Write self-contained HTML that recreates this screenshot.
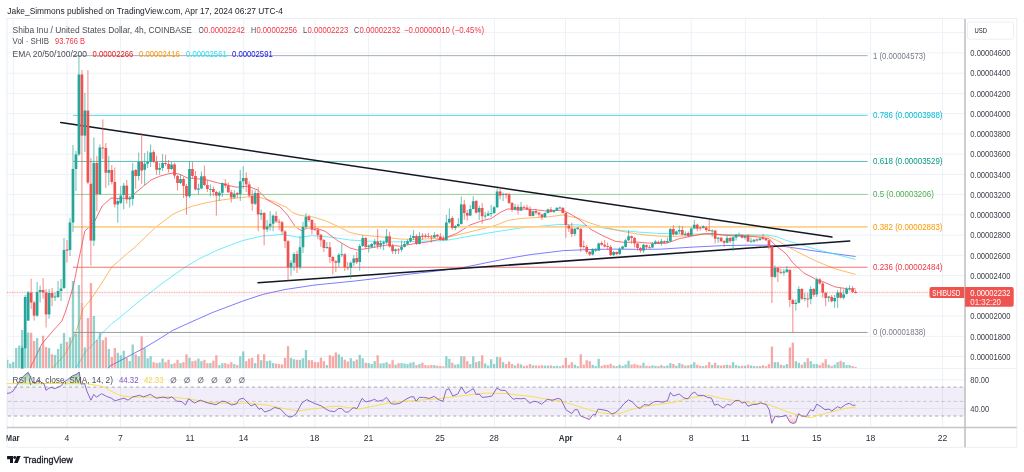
<!DOCTYPE html><html><head><meta charset="utf-8"><style>html,body{margin:0;padding:0;background:#fff;overflow:hidden}svg{display:block}</style></head><body><svg width="1024" height="472" viewBox="0 0 1024 472" font-family="Liberation Sans, sans-serif">
<defs><clipPath id="cm"><rect x="7" y="18.5" width="958" height="350"/></clipPath><clipPath id="cr"><rect x="7" y="368.5" width="958" height="59.1"/></clipPath>
<linearGradient id="gg" gradientUnits="userSpaceOnUse" x1="0" y1="370" x2="0" y2="387"><stop offset="0" stop-color="#4caf50" stop-opacity="0.8"/><stop offset="0.55" stop-color="#4caf50" stop-opacity="0.3"/><stop offset="1" stop-color="#4caf50" stop-opacity="0.04"/></linearGradient><filter id="nf" x="0" y="0" width="1024" height="472" filterUnits="userSpaceOnUse"><feOffset dx="0" dy="0"/></filter><linearGradient id="rg" gradientUnits="userSpaceOnUse" x1="0" y1="416" x2="0" y2="424"><stop offset="0" stop-color="#ef5350" stop-opacity="0.03"/><stop offset="1" stop-color="#ef5350" stop-opacity="0.4"/></linearGradient><clipPath id="ob"><rect x="0" y="360" width="1024" height="27"/></clipPath><clipPath id="os"><rect x="0" y="416" width="1024" height="12"/></clipPath></defs>
<rect width="1024" height="472" fill="#fff"/>
<line x1="13.25" y1="18.5" x2="13.25" y2="427.6" stroke="#edf2f7" stroke-width="1"/>
<line x1="67" y1="18.5" x2="67" y2="427.6" stroke="#edf2f7" stroke-width="1"/>
<line x1="120.5" y1="18.5" x2="120.5" y2="427.6" stroke="#edf2f7" stroke-width="1"/>
<line x1="190" y1="18.5" x2="190" y2="427.6" stroke="#edf2f7" stroke-width="1"/>
<line x1="243.75" y1="18.5" x2="243.75" y2="427.6" stroke="#edf2f7" stroke-width="1"/>
<line x1="315" y1="18.5" x2="315" y2="427.6" stroke="#edf2f7" stroke-width="1"/>
<line x1="368.5" y1="18.5" x2="368.5" y2="427.6" stroke="#edf2f7" stroke-width="1"/>
<line x1="440.25" y1="18.5" x2="440.25" y2="427.6" stroke="#edf2f7" stroke-width="1"/>
<line x1="494.4" y1="18.5" x2="494.4" y2="427.6" stroke="#edf2f7" stroke-width="1"/>
<line x1="565.5" y1="18.5" x2="565.5" y2="427.6" stroke="#edf2f7" stroke-width="1"/>
<line x1="619.3" y1="18.5" x2="619.3" y2="427.6" stroke="#edf2f7" stroke-width="1"/>
<line x1="691.25" y1="18.5" x2="691.25" y2="427.6" stroke="#edf2f7" stroke-width="1"/>
<line x1="745.4" y1="18.5" x2="745.4" y2="427.6" stroke="#edf2f7" stroke-width="1"/>
<line x1="816.7" y1="18.5" x2="816.7" y2="427.6" stroke="#edf2f7" stroke-width="1"/>
<line x1="870.6" y1="18.5" x2="870.6" y2="427.6" stroke="#edf2f7" stroke-width="1"/>
<line x1="942.5" y1="18.5" x2="942.5" y2="427.6" stroke="#edf2f7" stroke-width="1"/>
<line x1="7" y1="32.7" x2="965" y2="32.7" stroke="#edf2f7" stroke-width="1"/>
<line x1="7" y1="52.9" x2="965" y2="52.9" stroke="#edf2f7" stroke-width="1"/>
<line x1="7" y1="73.2" x2="965" y2="73.2" stroke="#edf2f7" stroke-width="1"/>
<line x1="7" y1="93.4" x2="965" y2="93.4" stroke="#edf2f7" stroke-width="1"/>
<line x1="7" y1="113.6" x2="965" y2="113.6" stroke="#edf2f7" stroke-width="1"/>
<line x1="7" y1="133.9" x2="965" y2="133.9" stroke="#edf2f7" stroke-width="1"/>
<line x1="7" y1="154.1" x2="965" y2="154.1" stroke="#edf2f7" stroke-width="1"/>
<line x1="7" y1="174.4" x2="965" y2="174.4" stroke="#edf2f7" stroke-width="1"/>
<line x1="7" y1="194.6" x2="965" y2="194.6" stroke="#edf2f7" stroke-width="1"/>
<line x1="7" y1="214.8" x2="965" y2="214.8" stroke="#edf2f7" stroke-width="1"/>
<line x1="7" y1="235.1" x2="965" y2="235.1" stroke="#edf2f7" stroke-width="1"/>
<line x1="7" y1="255.3" x2="965" y2="255.3" stroke="#edf2f7" stroke-width="1"/>
<line x1="7" y1="275.6" x2="965" y2="275.6" stroke="#edf2f7" stroke-width="1"/>
<line x1="7" y1="295.8" x2="965" y2="295.8" stroke="#edf2f7" stroke-width="1"/>
<line x1="7" y1="316.0" x2="965" y2="316.0" stroke="#edf2f7" stroke-width="1"/>
<line x1="7" y1="336.3" x2="965" y2="336.3" stroke="#edf2f7" stroke-width="1"/>
<line x1="7" y1="356.5" x2="965" y2="356.5" stroke="#edf2f7" stroke-width="1"/>
<line x1="7" y1="379.8" x2="965" y2="379.8" stroke="#edf2f7" stroke-width="1"/>
<line x1="7" y1="408.6" x2="965" y2="408.6" stroke="#edf2f7" stroke-width="1"/>
<rect x="7" y="18.5" width="1009.8" height="428.8" fill="none" stroke="#ebeef3" stroke-width="1"/>
<line x1="7" y1="368.5" x2="1016.8" y2="368.5" stroke="#eef1f5" stroke-width="1"/>
<g clip-path="url(#cm)">
<polyline fill="none" stroke="#4a4aff" stroke-width="0.9" stroke-opacity="0.8" stroke-linejoin="round"  points="108.0,368.4 110.0,366.0 130.0,355.5 145.0,347.5 160.0,338.5 172.5,330.5 190.0,322.5 212.5,312.5 242.5,301.2 262.5,294.5 285.0,289.5 315.0,285.0 356.0,280.9 372.0,279.0 406.0,274.5 435.0,271.2 463.5,267.5 485.0,263.0 506.0,258.8 531.0,254.5 540.0,253.5 563.5,250.6 590.0,249.5 615.0,249.1 640.0,249.4 660.0,249.2 691.2,247.2 722.5,245.6 747.5,245.2 767.5,245.2 785.0,246.5 816.2,251.2 855.6,256.5"/>
<polyline fill="none" stroke="#35e6f5" stroke-width="0.9" stroke-opacity="0.8" stroke-linejoin="round"  points="76.0,368.0 85.5,351.8 95.5,341.8 103.0,332.4 111.8,323.6 119.2,318.0 136.0,303.8 160.0,285.0 183.8,268.0 198.8,259.0 217.5,250.0 242.5,240.6 261.2,236.2 282.5,234.4 292.5,236.2 300.0,237.4 312.5,235.6 331.2,237.2 350.0,240.0 368.8,241.2 400.0,241.9 428.0,241.0 445.0,240.6 470.0,236.2 495.0,231.9 520.0,228.0 548.0,225.5 558.8,224.4 577.5,224.8 596.2,226.9 621.2,230.6 640.0,232.2 660.0,233.5 691.2,234.0 722.5,234.4 747.5,234.8 767.5,235.0 777.5,236.9 785.0,240.0 816.2,249.4 855.6,259.4"/>
<polyline fill="none" stroke="#ff9f2e" stroke-width="0.9" stroke-opacity="0.8" stroke-linejoin="round"  points="52.4,368.0 64.2,355.5 70.5,344.0 75.5,333.0 80.5,318.0 83.0,308.8 90.5,300.0 100.5,285.0 111.8,267.0 125.5,255.0 134.0,248.0 156.0,226.9 173.5,213.8 184.0,209.4 192.5,206.2 205.0,203.0 217.5,200.6 230.0,198.8 247.5,196.9 260.0,197.5 275.0,201.9 281.0,205.0 286.0,207.0 292.5,212.5 300.0,215.3 308.0,216.5 312.5,216.9 325.0,220.6 337.5,226.2 350.0,232.5 362.5,235.2 381.2,236.9 400.0,239.0 412.5,239.4 428.0,238.8 445.0,238.0 470.0,231.9 495.0,225.6 507.5,220.6 520.0,218.5 548.0,216.9 562.5,215.0 577.5,218.0 590.0,223.0 602.5,226.9 621.2,231.2 640.0,234.4 660.0,236.2 672.5,236.5 691.2,235.6 703.8,234.0 722.5,235.0 747.5,235.6 767.5,236.2 777.5,240.6 785.0,245.0 797.5,251.9 816.2,261.2 835.0,268.8 855.6,274.4"/>
<polyline fill="none" stroke="#f23645" stroke-width="0.85" stroke-opacity="0.85" stroke-linejoin="round"  points="30.2,368.0 41.8,344.0 52.0,332.0 61.8,321.0 65.0,313.0 68.0,303.8 71.0,294.0 73.6,285.0 77.0,268.0 81.0,249.0 84.8,231.0 89.8,226.5 94.8,221.0 102.2,206.0 111.0,198.0 120.0,198.5 129.8,198.0 133.5,194.4 143.5,186.2 151.0,180.0 159.8,176.2 168.5,173.8 173.5,173.0 180.0,174.4 187.5,178.0 205.0,179.4 217.5,182.8 236.2,187.2 247.5,186.2 257.5,189.8 265.0,197.5 267.5,200.0 280.0,206.9 287.5,215.0 295.0,226.2 301.2,230.6 307.5,228.0 315.0,227.8 325.0,231.2 337.5,240.6 350.0,248.0 357.5,250.0 370.0,248.0 387.5,245.0 400.0,246.2 412.5,244.0 428.0,241.9 445.0,238.0 457.5,233.0 470.0,225.0 482.5,220.6 491.2,218.5 500.0,212.5 507.5,209.0 520.0,209.0 532.5,209.4 548.0,211.2 552.5,210.6 562.5,210.2 571.2,214.4 580.0,220.0 590.0,228.8 602.5,235.6 615.0,241.2 625.0,242.5 635.0,241.9 647.5,243.0 660.0,243.5 667.5,243.0 678.8,238.8 691.2,236.2 703.8,233.8 712.5,233.5 722.5,235.0 735.0,236.0 747.5,236.0 760.0,237.2 768.8,238.5 775.0,245.0 786.2,253.8 792.5,262.5 803.8,273.0 816.2,279.4 822.5,281.5 835.0,286.9 847.5,288.8 855.6,288.8"/>
<rect x="6.11" y="359.70" width="2.3" height="8.30" fill="#26a69a" fill-opacity="0.5"/>
<rect x="9.10" y="363.60" width="2.3" height="4.40" fill="#26a69a" fill-opacity="0.5"/>
<rect x="12.08" y="362.00" width="2.3" height="6.00" fill="#26a69a" fill-opacity="0.5"/>
<rect x="15.07" y="348.00" width="2.3" height="20.00" fill="#26a69a" fill-opacity="0.5"/>
<rect x="18.06" y="345.50" width="2.3" height="22.50" fill="#26a69a" fill-opacity="0.5"/>
<rect x="21.05" y="330.00" width="2.3" height="38.00" fill="#26a69a" fill-opacity="0.5"/>
<rect x="24.03" y="335.00" width="2.3" height="33.00" fill="#26a69a" fill-opacity="0.5"/>
<rect x="27.02" y="332.40" width="2.3" height="35.60" fill="#26a69a" fill-opacity="0.5"/>
<rect x="30.01" y="332.75" width="2.3" height="35.25" fill="#ef5350" fill-opacity="0.5"/>
<rect x="32.99" y="341.00" width="2.3" height="27.00" fill="#ef5350" fill-opacity="0.5"/>
<rect x="35.98" y="338.00" width="2.3" height="30.00" fill="#26a69a" fill-opacity="0.5"/>
<rect x="38.97" y="347.40" width="2.3" height="20.60" fill="#26a69a" fill-opacity="0.5"/>
<rect x="41.95" y="335.75" width="2.3" height="32.25" fill="#ef5350" fill-opacity="0.5"/>
<rect x="44.94" y="347.00" width="2.3" height="21.00" fill="#ef5350" fill-opacity="0.5"/>
<rect x="47.93" y="348.00" width="2.3" height="20.00" fill="#26a69a" fill-opacity="0.5"/>
<rect x="50.91" y="354.25" width="2.3" height="13.75" fill="#ef5350" fill-opacity="0.5"/>
<rect x="53.90" y="355.00" width="2.3" height="13.00" fill="#26a69a" fill-opacity="0.5"/>
<rect x="56.89" y="349.00" width="2.3" height="19.00" fill="#26a69a" fill-opacity="0.5"/>
<rect x="59.88" y="343.60" width="2.3" height="24.40" fill="#26a69a" fill-opacity="0.5"/>
<rect x="62.86" y="333.00" width="2.3" height="35.00" fill="#26a69a" fill-opacity="0.5"/>
<rect x="65.85" y="342.00" width="2.3" height="26.00" fill="#ef5350" fill-opacity="0.5"/>
<rect x="68.84" y="337.40" width="2.3" height="30.60" fill="#26a69a" fill-opacity="0.5"/>
<rect x="71.82" y="281.00" width="2.3" height="87.00" fill="#26a69a" fill-opacity="0.5"/>
<rect x="74.81" y="333.60" width="2.3" height="34.40" fill="#26a69a" fill-opacity="0.5"/>
<rect x="77.80" y="285.00" width="2.3" height="83.00" fill="#26a69a" fill-opacity="0.5"/>
<rect x="80.78" y="303.00" width="2.3" height="65.00" fill="#ef5350" fill-opacity="0.5"/>
<rect x="83.77" y="347.40" width="2.3" height="20.60" fill="#26a69a" fill-opacity="0.5"/>
<rect x="86.76" y="318.00" width="2.3" height="50.00" fill="#ef5350" fill-opacity="0.5"/>
<rect x="89.75" y="283.00" width="2.3" height="85.00" fill="#ef5350" fill-opacity="0.5"/>
<rect x="92.73" y="316.00" width="2.3" height="52.00" fill="#26a69a" fill-opacity="0.5"/>
<rect x="95.72" y="340.00" width="2.3" height="28.00" fill="#ef5350" fill-opacity="0.5"/>
<rect x="98.71" y="333.00" width="2.3" height="35.00" fill="#26a69a" fill-opacity="0.5"/>
<rect x="101.69" y="340.25" width="2.3" height="27.75" fill="#ef5350" fill-opacity="0.5"/>
<rect x="104.68" y="337.40" width="2.3" height="30.60" fill="#ef5350" fill-opacity="0.5"/>
<rect x="107.67" y="349.00" width="2.3" height="19.00" fill="#26a69a" fill-opacity="0.5"/>
<rect x="110.66" y="357.00" width="2.3" height="11.00" fill="#ef5350" fill-opacity="0.5"/>
<rect x="113.64" y="348.00" width="2.3" height="20.00" fill="#ef5350" fill-opacity="0.5"/>
<rect x="116.63" y="352.75" width="2.3" height="15.25" fill="#26a69a" fill-opacity="0.5"/>
<rect x="119.62" y="355.25" width="2.3" height="12.75" fill="#26a69a" fill-opacity="0.5"/>
<rect x="122.60" y="350.75" width="2.3" height="17.25" fill="#26a69a" fill-opacity="0.5"/>
<rect x="125.59" y="357.75" width="2.3" height="10.25" fill="#ef5350" fill-opacity="0.5"/>
<rect x="128.58" y="361.00" width="2.3" height="7.00" fill="#26a69a" fill-opacity="0.5"/>
<rect x="131.56" y="344.56" width="2.3" height="23.44" fill="#26a69a" fill-opacity="0.5"/>
<rect x="134.55" y="354.33" width="2.3" height="13.67" fill="#ef5350" fill-opacity="0.5"/>
<rect x="137.54" y="356.28" width="2.3" height="11.72" fill="#26a69a" fill-opacity="0.5"/>
<rect x="140.53" y="336.36" width="2.3" height="31.64" fill="#ef5350" fill-opacity="0.5"/>
<rect x="143.51" y="348.08" width="2.3" height="19.92" fill="#26a69a" fill-opacity="0.5"/>
<rect x="146.50" y="358.23" width="2.3" height="9.77" fill="#26a69a" fill-opacity="0.5"/>
<rect x="149.49" y="356.28" width="2.3" height="11.72" fill="#26a69a" fill-opacity="0.5"/>
<rect x="152.47" y="362.14" width="2.3" height="5.86" fill="#ef5350" fill-opacity="0.5"/>
<rect x="155.46" y="363.12" width="2.3" height="4.88" fill="#ef5350" fill-opacity="0.5"/>
<rect x="158.45" y="362.53" width="2.3" height="5.47" fill="#26a69a" fill-opacity="0.5"/>
<rect x="161.43" y="358.62" width="2.3" height="9.38" fill="#26a69a" fill-opacity="0.5"/>
<rect x="164.42" y="362.14" width="2.3" height="5.86" fill="#ef5350" fill-opacity="0.5"/>
<rect x="167.41" y="359.80" width="2.3" height="8.20" fill="#ef5350" fill-opacity="0.5"/>
<rect x="170.40" y="364.09" width="2.3" height="3.91" fill="#26a69a" fill-opacity="0.5"/>
<rect x="173.38" y="363.12" width="2.3" height="4.88" fill="#ef5350" fill-opacity="0.5"/>
<rect x="176.37" y="359.80" width="2.3" height="8.20" fill="#ef5350" fill-opacity="0.5"/>
<rect x="179.36" y="363.12" width="2.3" height="4.88" fill="#26a69a" fill-opacity="0.5"/>
<rect x="182.34" y="362.14" width="2.3" height="5.86" fill="#ef5350" fill-opacity="0.5"/>
<rect x="185.33" y="354.33" width="2.3" height="13.67" fill="#ef5350" fill-opacity="0.5"/>
<rect x="188.32" y="357.84" width="2.3" height="10.16" fill="#26a69a" fill-opacity="0.5"/>
<rect x="191.30" y="361.16" width="2.3" height="6.84" fill="#ef5350" fill-opacity="0.5"/>
<rect x="194.29" y="360.58" width="2.3" height="7.42" fill="#ef5350" fill-opacity="0.5"/>
<rect x="197.28" y="358.62" width="2.3" height="9.38" fill="#26a69a" fill-opacity="0.5"/>
<rect x="200.26" y="361.16" width="2.3" height="6.84" fill="#26a69a" fill-opacity="0.5"/>
<rect x="203.25" y="359.80" width="2.3" height="8.20" fill="#ef5350" fill-opacity="0.5"/>
<rect x="206.24" y="363.12" width="2.3" height="4.88" fill="#ef5350" fill-opacity="0.5"/>
<rect x="209.23" y="363.12" width="2.3" height="4.88" fill="#26a69a" fill-opacity="0.5"/>
<rect x="212.21" y="360.58" width="2.3" height="7.42" fill="#ef5350" fill-opacity="0.5"/>
<rect x="215.20" y="355.30" width="2.3" height="12.70" fill="#ef5350" fill-opacity="0.5"/>
<rect x="218.19" y="365.07" width="2.3" height="2.93" fill="#26a69a" fill-opacity="0.5"/>
<rect x="221.17" y="363.12" width="2.3" height="4.88" fill="#26a69a" fill-opacity="0.5"/>
<rect x="224.16" y="363.12" width="2.3" height="4.88" fill="#ef5350" fill-opacity="0.5"/>
<rect x="227.15" y="364.09" width="2.3" height="3.91" fill="#ef5350" fill-opacity="0.5"/>
<rect x="230.13" y="362.14" width="2.3" height="5.86" fill="#ef5350" fill-opacity="0.5"/>
<rect x="233.12" y="364.09" width="2.3" height="3.91" fill="#26a69a" fill-opacity="0.5"/>
<rect x="236.11" y="365.07" width="2.3" height="2.93" fill="#ef5350" fill-opacity="0.5"/>
<rect x="239.10" y="356.28" width="2.3" height="11.72" fill="#26a69a" fill-opacity="0.5"/>
<rect x="242.08" y="351.40" width="2.3" height="16.60" fill="#26a69a" fill-opacity="0.5"/>
<rect x="245.07" y="361.16" width="2.3" height="6.84" fill="#ef5350" fill-opacity="0.5"/>
<rect x="248.06" y="358.62" width="2.3" height="9.38" fill="#ef5350" fill-opacity="0.5"/>
<rect x="251.04" y="357.84" width="2.3" height="10.16" fill="#ef5350" fill-opacity="0.5"/>
<rect x="254.03" y="363.12" width="2.3" height="4.88" fill="#26a69a" fill-opacity="0.5"/>
<rect x="257.02" y="354.33" width="2.3" height="13.67" fill="#ef5350" fill-opacity="0.5"/>
<rect x="260.00" y="360.19" width="2.3" height="7.81" fill="#26a69a" fill-opacity="0.5"/>
<rect x="262.99" y="354.33" width="2.3" height="13.67" fill="#ef5350" fill-opacity="0.5"/>
<rect x="265.98" y="361.16" width="2.3" height="6.84" fill="#26a69a" fill-opacity="0.5"/>
<rect x="268.97" y="360.58" width="2.3" height="7.42" fill="#26a69a" fill-opacity="0.5"/>
<rect x="271.95" y="363.12" width="2.3" height="4.88" fill="#26a69a" fill-opacity="0.5"/>
<rect x="274.94" y="363.70" width="2.3" height="4.30" fill="#ef5350" fill-opacity="0.5"/>
<rect x="277.93" y="364.09" width="2.3" height="3.91" fill="#ef5350" fill-opacity="0.5"/>
<rect x="280.91" y="364.48" width="2.3" height="3.52" fill="#ef5350" fill-opacity="0.5"/>
<rect x="283.90" y="357.84" width="2.3" height="10.16" fill="#ef5350" fill-opacity="0.5"/>
<rect x="286.89" y="346.12" width="2.3" height="21.88" fill="#ef5350" fill-opacity="0.5"/>
<rect x="289.88" y="357.84" width="2.3" height="10.16" fill="#26a69a" fill-opacity="0.5"/>
<rect x="292.86" y="359.21" width="2.3" height="8.79" fill="#26a69a" fill-opacity="0.5"/>
<rect x="295.85" y="359.80" width="2.3" height="8.20" fill="#ef5350" fill-opacity="0.5"/>
<rect x="298.84" y="359.80" width="2.3" height="8.20" fill="#26a69a" fill-opacity="0.5"/>
<rect x="301.82" y="358.23" width="2.3" height="9.77" fill="#26a69a" fill-opacity="0.5"/>
<rect x="304.81" y="350.03" width="2.3" height="17.97" fill="#26a69a" fill-opacity="0.5"/>
<rect x="307.80" y="360.19" width="2.3" height="7.81" fill="#ef5350" fill-opacity="0.5"/>
<rect x="310.78" y="360.19" width="2.3" height="7.81" fill="#ef5350" fill-opacity="0.5"/>
<rect x="313.77" y="362.14" width="2.3" height="5.86" fill="#ef5350" fill-opacity="0.5"/>
<rect x="316.76" y="362.14" width="2.3" height="5.86" fill="#ef5350" fill-opacity="0.5"/>
<rect x="319.75" y="357.65" width="2.3" height="10.35" fill="#ef5350" fill-opacity="0.5"/>
<rect x="322.73" y="361.16" width="2.3" height="6.84" fill="#ef5350" fill-opacity="0.5"/>
<rect x="325.72" y="365.07" width="2.3" height="2.93" fill="#26a69a" fill-opacity="0.5"/>
<rect x="328.71" y="355.30" width="2.3" height="12.70" fill="#ef5350" fill-opacity="0.5"/>
<rect x="331.69" y="356.28" width="2.3" height="11.72" fill="#ef5350" fill-opacity="0.5"/>
<rect x="334.68" y="352.38" width="2.3" height="15.62" fill="#ef5350" fill-opacity="0.5"/>
<rect x="337.67" y="354.33" width="2.3" height="13.67" fill="#26a69a" fill-opacity="0.5"/>
<rect x="340.65" y="356.87" width="2.3" height="11.13" fill="#26a69a" fill-opacity="0.5"/>
<rect x="343.64" y="359.60" width="2.3" height="8.40" fill="#ef5350" fill-opacity="0.5"/>
<rect x="346.63" y="361.55" width="2.3" height="6.45" fill="#ef5350" fill-opacity="0.5"/>
<rect x="349.62" y="358.23" width="2.3" height="9.77" fill="#26a69a" fill-opacity="0.5"/>
<rect x="352.60" y="361.16" width="2.3" height="6.84" fill="#26a69a" fill-opacity="0.5"/>
<rect x="355.59" y="359.60" width="2.3" height="8.40" fill="#ef5350" fill-opacity="0.5"/>
<rect x="358.58" y="354.91" width="2.3" height="13.09" fill="#26a69a" fill-opacity="0.5"/>
<rect x="361.56" y="358.23" width="2.3" height="9.77" fill="#26a69a" fill-opacity="0.5"/>
<rect x="364.55" y="362.73" width="2.3" height="5.27" fill="#ef5350" fill-opacity="0.5"/>
<rect x="367.54" y="363.12" width="2.3" height="4.88" fill="#26a69a" fill-opacity="0.5"/>
<rect x="370.52" y="364.09" width="2.3" height="3.91" fill="#26a69a" fill-opacity="0.5"/>
<rect x="373.51" y="361.16" width="2.3" height="6.84" fill="#26a69a" fill-opacity="0.5"/>
<rect x="376.50" y="355.30" width="2.3" height="12.70" fill="#ef5350" fill-opacity="0.5"/>
<rect x="379.49" y="363.51" width="2.3" height="4.49" fill="#26a69a" fill-opacity="0.5"/>
<rect x="382.47" y="363.12" width="2.3" height="4.88" fill="#26a69a" fill-opacity="0.5"/>
<rect x="385.46" y="362.14" width="2.3" height="5.86" fill="#26a69a" fill-opacity="0.5"/>
<rect x="388.45" y="364.09" width="2.3" height="3.91" fill="#ef5350" fill-opacity="0.5"/>
<rect x="391.43" y="360.19" width="2.3" height="7.81" fill="#ef5350" fill-opacity="0.5"/>
<rect x="394.42" y="364.68" width="2.3" height="3.32" fill="#26a69a" fill-opacity="0.5"/>
<rect x="397.41" y="363.12" width="2.3" height="4.88" fill="#ef5350" fill-opacity="0.5"/>
<rect x="400.39" y="363.12" width="2.3" height="4.88" fill="#26a69a" fill-opacity="0.5"/>
<rect x="403.38" y="363.51" width="2.3" height="4.49" fill="#26a69a" fill-opacity="0.5"/>
<rect x="406.37" y="364.09" width="2.3" height="3.91" fill="#26a69a" fill-opacity="0.5"/>
<rect x="409.36" y="362.73" width="2.3" height="5.27" fill="#26a69a" fill-opacity="0.5"/>
<rect x="412.34" y="362.14" width="2.3" height="5.86" fill="#26a69a" fill-opacity="0.5"/>
<rect x="415.33" y="365.07" width="2.3" height="2.93" fill="#ef5350" fill-opacity="0.5"/>
<rect x="418.32" y="364.09" width="2.3" height="3.91" fill="#26a69a" fill-opacity="0.5"/>
<rect x="421.30" y="362.73" width="2.3" height="5.27" fill="#ef5350" fill-opacity="0.5"/>
<rect x="424.29" y="365.07" width="2.3" height="2.93" fill="#ef5350" fill-opacity="0.5"/>
<rect x="427.28" y="365.46" width="2.3" height="2.54" fill="#ef5350" fill-opacity="0.5"/>
<rect x="430.26" y="365.07" width="2.3" height="2.93" fill="#ef5350" fill-opacity="0.5"/>
<rect x="433.25" y="365.07" width="2.3" height="2.93" fill="#26a69a" fill-opacity="0.5"/>
<rect x="436.24" y="365.66" width="2.3" height="2.34" fill="#ef5350" fill-opacity="0.5"/>
<rect x="439.23" y="366.05" width="2.3" height="1.95" fill="#ef5350" fill-opacity="0.5"/>
<rect x="442.21" y="366.44" width="2.3" height="1.56" fill="#ef5350" fill-opacity="0.5"/>
<rect x="445.20" y="356.28" width="2.3" height="11.72" fill="#26a69a" fill-opacity="0.5"/>
<rect x="448.19" y="358.82" width="2.3" height="9.18" fill="#26a69a" fill-opacity="0.5"/>
<rect x="451.17" y="362.73" width="2.3" height="5.27" fill="#ef5350" fill-opacity="0.5"/>
<rect x="454.16" y="364.68" width="2.3" height="3.32" fill="#26a69a" fill-opacity="0.5"/>
<rect x="457.15" y="364.09" width="2.3" height="3.91" fill="#26a69a" fill-opacity="0.5"/>
<rect x="460.13" y="356.28" width="2.3" height="11.72" fill="#26a69a" fill-opacity="0.5"/>
<rect x="463.12" y="356.28" width="2.3" height="11.72" fill="#ef5350" fill-opacity="0.5"/>
<rect x="466.11" y="361.16" width="2.3" height="6.84" fill="#ef5350" fill-opacity="0.5"/>
<rect x="469.10" y="364.09" width="2.3" height="3.91" fill="#26a69a" fill-opacity="0.5"/>
<rect x="472.08" y="356.28" width="2.3" height="11.72" fill="#26a69a" fill-opacity="0.5"/>
<rect x="475.07" y="362.14" width="2.3" height="5.86" fill="#ef5350" fill-opacity="0.5"/>
<rect x="478.06" y="361.16" width="2.3" height="6.84" fill="#26a69a" fill-opacity="0.5"/>
<rect x="481.04" y="355.30" width="2.3" height="12.70" fill="#ef5350" fill-opacity="0.5"/>
<rect x="484.03" y="363.51" width="2.3" height="4.49" fill="#26a69a" fill-opacity="0.5"/>
<rect x="487.02" y="365.46" width="2.3" height="2.54" fill="#26a69a" fill-opacity="0.5"/>
<rect x="490.00" y="359.21" width="2.3" height="8.79" fill="#26a69a" fill-opacity="0.5"/>
<rect x="492.99" y="364.09" width="2.3" height="3.91" fill="#26a69a" fill-opacity="0.5"/>
<rect x="495.98" y="356.87" width="2.3" height="11.13" fill="#26a69a" fill-opacity="0.5"/>
<rect x="498.97" y="357.26" width="2.3" height="10.74" fill="#ef5350" fill-opacity="0.5"/>
<rect x="501.95" y="362.14" width="2.3" height="5.86" fill="#26a69a" fill-opacity="0.5"/>
<rect x="504.94" y="364.09" width="2.3" height="3.91" fill="#ef5350" fill-opacity="0.5"/>
<rect x="507.93" y="361.55" width="2.3" height="6.45" fill="#ef5350" fill-opacity="0.5"/>
<rect x="510.91" y="364.09" width="2.3" height="3.91" fill="#ef5350" fill-opacity="0.5"/>
<rect x="513.90" y="365.46" width="2.3" height="2.54" fill="#26a69a" fill-opacity="0.5"/>
<rect x="516.89" y="363.51" width="2.3" height="4.49" fill="#ef5350" fill-opacity="0.5"/>
<rect x="519.87" y="364.37" width="2.3" height="3.63" fill="#26a69a" fill-opacity="0.5"/>
<rect x="522.86" y="366.08" width="2.3" height="1.92" fill="#ef5350" fill-opacity="0.5"/>
<rect x="525.85" y="365.52" width="2.3" height="2.48" fill="#ef5350" fill-opacity="0.5"/>
<rect x="528.84" y="364.02" width="2.3" height="3.97" fill="#ef5350" fill-opacity="0.5"/>
<rect x="531.82" y="365.30" width="2.3" height="2.70" fill="#26a69a" fill-opacity="0.5"/>
<rect x="534.81" y="365.48" width="2.3" height="2.52" fill="#ef5350" fill-opacity="0.5"/>
<rect x="537.80" y="365.63" width="2.3" height="2.37" fill="#ef5350" fill-opacity="0.5"/>
<rect x="540.78" y="365.23" width="2.3" height="2.77" fill="#ef5350" fill-opacity="0.5"/>
<rect x="543.77" y="365.60" width="2.3" height="2.40" fill="#26a69a" fill-opacity="0.5"/>
<rect x="546.76" y="365.60" width="2.3" height="2.40" fill="#26a69a" fill-opacity="0.5"/>
<rect x="549.74" y="365.42" width="2.3" height="2.58" fill="#ef5350" fill-opacity="0.5"/>
<rect x="552.73" y="366.05" width="2.3" height="1.95" fill="#26a69a" fill-opacity="0.5"/>
<rect x="555.72" y="365.90" width="2.3" height="2.10" fill="#26a69a" fill-opacity="0.5"/>
<rect x="558.71" y="366.35" width="2.3" height="1.65" fill="#26a69a" fill-opacity="0.5"/>
<rect x="561.69" y="365.15" width="2.3" height="2.85" fill="#ef5350" fill-opacity="0.5"/>
<rect x="564.68" y="357.84" width="2.3" height="10.16" fill="#ef5350" fill-opacity="0.5"/>
<rect x="567.67" y="364.85" width="2.3" height="3.15" fill="#ef5350" fill-opacity="0.5"/>
<rect x="570.65" y="362.14" width="2.3" height="5.86" fill="#ef5350" fill-opacity="0.5"/>
<rect x="573.64" y="364.70" width="2.3" height="3.30" fill="#26a69a" fill-opacity="0.5"/>
<rect x="576.63" y="366.17" width="2.3" height="1.83" fill="#26a69a" fill-opacity="0.5"/>
<rect x="579.61" y="354.33" width="2.3" height="13.67" fill="#ef5350" fill-opacity="0.5"/>
<rect x="582.60" y="364.65" width="2.3" height="3.35" fill="#ef5350" fill-opacity="0.5"/>
<rect x="585.59" y="360.19" width="2.3" height="7.81" fill="#ef5350" fill-opacity="0.5"/>
<rect x="588.58" y="361.16" width="2.3" height="6.84" fill="#ef5350" fill-opacity="0.5"/>
<rect x="591.56" y="364.85" width="2.3" height="3.15" fill="#26a69a" fill-opacity="0.5"/>
<rect x="594.55" y="365.90" width="2.3" height="2.10" fill="#26a69a" fill-opacity="0.5"/>
<rect x="597.54" y="358.82" width="2.3" height="9.18" fill="#26a69a" fill-opacity="0.5"/>
<rect x="600.52" y="365.80" width="2.3" height="2.20" fill="#ef5350" fill-opacity="0.5"/>
<rect x="603.51" y="364.85" width="2.3" height="3.15" fill="#ef5350" fill-opacity="0.5"/>
<rect x="606.50" y="364.85" width="2.3" height="3.15" fill="#ef5350" fill-opacity="0.5"/>
<rect x="609.48" y="363.80" width="2.3" height="4.20" fill="#ef5350" fill-opacity="0.5"/>
<rect x="612.47" y="365.60" width="2.3" height="2.40" fill="#26a69a" fill-opacity="0.5"/>
<rect x="615.46" y="366.05" width="2.3" height="1.95" fill="#ef5350" fill-opacity="0.5"/>
<rect x="618.45" y="364.77" width="2.3" height="3.22" fill="#26a69a" fill-opacity="0.5"/>
<rect x="621.43" y="365.93" width="2.3" height="2.07" fill="#26a69a" fill-opacity="0.5"/>
<rect x="624.42" y="364.48" width="2.3" height="3.52" fill="#26a69a" fill-opacity="0.5"/>
<rect x="627.41" y="360.77" width="2.3" height="7.23" fill="#26a69a" fill-opacity="0.5"/>
<rect x="630.39" y="364.62" width="2.3" height="3.38" fill="#ef5350" fill-opacity="0.5"/>
<rect x="633.38" y="363.95" width="2.3" height="4.05" fill="#ef5350" fill-opacity="0.5"/>
<rect x="636.37" y="364.82" width="2.3" height="3.18" fill="#ef5350" fill-opacity="0.5"/>
<rect x="639.35" y="365.45" width="2.3" height="2.55" fill="#ef5350" fill-opacity="0.5"/>
<rect x="642.34" y="362.73" width="2.3" height="5.27" fill="#26a69a" fill-opacity="0.5"/>
<rect x="645.33" y="365.75" width="2.3" height="2.25" fill="#ef5350" fill-opacity="0.5"/>
<rect x="648.32" y="366.05" width="2.3" height="1.95" fill="#ef5350" fill-opacity="0.5"/>
<rect x="651.30" y="365.38" width="2.3" height="2.62" fill="#26a69a" fill-opacity="0.5"/>
<rect x="654.29" y="365.82" width="2.3" height="2.17" fill="#26a69a" fill-opacity="0.5"/>
<rect x="657.28" y="366.08" width="2.3" height="1.92" fill="#ef5350" fill-opacity="0.5"/>
<rect x="660.26" y="365.12" width="2.3" height="2.88" fill="#26a69a" fill-opacity="0.5"/>
<rect x="663.25" y="366.12" width="2.3" height="1.88" fill="#ef5350" fill-opacity="0.5"/>
<rect x="666.24" y="365.45" width="2.3" height="2.55" fill="#26a69a" fill-opacity="0.5"/>
<rect x="669.22" y="363.12" width="2.3" height="4.88" fill="#26a69a" fill-opacity="0.5"/>
<rect x="672.21" y="364.00" width="2.3" height="4.00" fill="#ef5350" fill-opacity="0.5"/>
<rect x="675.20" y="365.75" width="2.3" height="2.25" fill="#26a69a" fill-opacity="0.5"/>
<rect x="678.19" y="363.12" width="2.3" height="4.88" fill="#26a69a" fill-opacity="0.5"/>
<rect x="681.17" y="364.32" width="2.3" height="3.67" fill="#ef5350" fill-opacity="0.5"/>
<rect x="684.16" y="365.60" width="2.3" height="2.40" fill="#26a69a" fill-opacity="0.5"/>
<rect x="687.15" y="365.30" width="2.3" height="2.70" fill="#ef5350" fill-opacity="0.5"/>
<rect x="690.13" y="364.48" width="2.3" height="3.52" fill="#26a69a" fill-opacity="0.5"/>
<rect x="693.12" y="362.14" width="2.3" height="5.86" fill="#26a69a" fill-opacity="0.5"/>
<rect x="696.11" y="364.77" width="2.3" height="3.22" fill="#ef5350" fill-opacity="0.5"/>
<rect x="699.09" y="365.80" width="2.3" height="2.20" fill="#ef5350" fill-opacity="0.5"/>
<rect x="702.08" y="366.12" width="2.3" height="1.88" fill="#26a69a" fill-opacity="0.5"/>
<rect x="705.07" y="365.33" width="2.3" height="2.67" fill="#ef5350" fill-opacity="0.5"/>
<rect x="708.06" y="362.14" width="2.3" height="5.86" fill="#ef5350" fill-opacity="0.5"/>
<rect x="711.04" y="364.85" width="2.3" height="3.15" fill="#26a69a" fill-opacity="0.5"/>
<rect x="714.03" y="362.73" width="2.3" height="5.27" fill="#ef5350" fill-opacity="0.5"/>
<rect x="717.02" y="365.30" width="2.3" height="2.70" fill="#26a69a" fill-opacity="0.5"/>
<rect x="720.00" y="365.60" width="2.3" height="2.40" fill="#ef5350" fill-opacity="0.5"/>
<rect x="722.99" y="365.03" width="2.3" height="2.97" fill="#ef5350" fill-opacity="0.5"/>
<rect x="725.98" y="364.73" width="2.3" height="3.27" fill="#26a69a" fill-opacity="0.5"/>
<rect x="728.96" y="365.30" width="2.3" height="2.70" fill="#ef5350" fill-opacity="0.5"/>
<rect x="731.95" y="362.14" width="2.3" height="5.86" fill="#26a69a" fill-opacity="0.5"/>
<rect x="734.94" y="365.12" width="2.3" height="2.88" fill="#26a69a" fill-opacity="0.5"/>
<rect x="737.93" y="365.90" width="2.3" height="2.10" fill="#26a69a" fill-opacity="0.5"/>
<rect x="740.91" y="365.75" width="2.3" height="2.25" fill="#ef5350" fill-opacity="0.5"/>
<rect x="743.90" y="365.78" width="2.3" height="2.22" fill="#26a69a" fill-opacity="0.5"/>
<rect x="746.89" y="364.70" width="2.3" height="3.30" fill="#ef5350" fill-opacity="0.5"/>
<rect x="749.87" y="365.45" width="2.3" height="2.55" fill="#26a69a" fill-opacity="0.5"/>
<rect x="752.86" y="366.05" width="2.3" height="1.95" fill="#26a69a" fill-opacity="0.5"/>
<rect x="755.85" y="366.20" width="2.3" height="1.80" fill="#ef5350" fill-opacity="0.5"/>
<rect x="758.83" y="366.05" width="2.3" height="1.95" fill="#26a69a" fill-opacity="0.5"/>
<rect x="761.82" y="365.30" width="2.3" height="2.70" fill="#ef5350" fill-opacity="0.5"/>
<rect x="764.81" y="366.20" width="2.3" height="1.80" fill="#ef5350" fill-opacity="0.5"/>
<rect x="767.80" y="364.13" width="2.3" height="3.87" fill="#ef5350" fill-opacity="0.5"/>
<rect x="770.78" y="346.52" width="2.3" height="21.48" fill="#ef5350" fill-opacity="0.5"/>
<rect x="773.77" y="362.14" width="2.3" height="5.86" fill="#26a69a" fill-opacity="0.5"/>
<rect x="776.76" y="362.14" width="2.3" height="5.86" fill="#26a69a" fill-opacity="0.5"/>
<rect x="779.74" y="364.68" width="2.3" height="3.32" fill="#ef5350" fill-opacity="0.5"/>
<rect x="782.73" y="365.46" width="2.3" height="2.54" fill="#26a69a" fill-opacity="0.5"/>
<rect x="785.72" y="364.09" width="2.3" height="3.91" fill="#26a69a" fill-opacity="0.5"/>
<rect x="788.70" y="347.49" width="2.3" height="20.51" fill="#ef5350" fill-opacity="0.5"/>
<rect x="791.69" y="342.61" width="2.3" height="25.39" fill="#ef5350" fill-opacity="0.5"/>
<rect x="794.68" y="361.16" width="2.3" height="6.84" fill="#26a69a" fill-opacity="0.5"/>
<rect x="797.67" y="362.73" width="2.3" height="5.27" fill="#26a69a" fill-opacity="0.5"/>
<rect x="800.65" y="364.68" width="2.3" height="3.32" fill="#ef5350" fill-opacity="0.5"/>
<rect x="803.64" y="362.14" width="2.3" height="5.86" fill="#26a69a" fill-opacity="0.5"/>
<rect x="806.63" y="358.23" width="2.3" height="9.77" fill="#ef5350" fill-opacity="0.5"/>
<rect x="809.61" y="361.16" width="2.3" height="6.84" fill="#26a69a" fill-opacity="0.5"/>
<rect x="812.60" y="364.09" width="2.3" height="3.91" fill="#26a69a" fill-opacity="0.5"/>
<rect x="815.59" y="364.09" width="2.3" height="3.91" fill="#26a69a" fill-opacity="0.5"/>
<rect x="818.57" y="365.07" width="2.3" height="2.93" fill="#ef5350" fill-opacity="0.5"/>
<rect x="821.56" y="362.73" width="2.3" height="5.27" fill="#ef5350" fill-opacity="0.5"/>
<rect x="824.55" y="359.21" width="2.3" height="8.79" fill="#ef5350" fill-opacity="0.5"/>
<rect x="827.54" y="364.68" width="2.3" height="3.32" fill="#26a69a" fill-opacity="0.5"/>
<rect x="830.52" y="366.05" width="2.3" height="1.95" fill="#ef5350" fill-opacity="0.5"/>
<rect x="833.51" y="364.68" width="2.3" height="3.32" fill="#26a69a" fill-opacity="0.5"/>
<rect x="836.50" y="362.14" width="2.3" height="5.86" fill="#26a69a" fill-opacity="0.5"/>
<rect x="839.48" y="360.77" width="2.3" height="7.23" fill="#ef5350" fill-opacity="0.5"/>
<rect x="842.47" y="362.14" width="2.3" height="5.86" fill="#26a69a" fill-opacity="0.5"/>
<rect x="845.46" y="365.07" width="2.3" height="2.93" fill="#26a69a" fill-opacity="0.5"/>
<rect x="848.44" y="365.07" width="2.3" height="2.93" fill="#26a69a" fill-opacity="0.5"/>
<rect x="851.43" y="366.05" width="2.3" height="1.95" fill="#ef5350" fill-opacity="0.5"/>
<rect x="854.42" y="367.02" width="2.3" height="0.98" fill="#ef5350" fill-opacity="0.5"/>
<line x1="73" y1="55.65" x2="867.6" y2="55.65" stroke="#a0a3ad" stroke-width="0.9"/>
<line x1="73" y1="115.40" x2="867.6" y2="115.40" stroke="#4dd0e1" stroke-width="0.9"/>
<line x1="73" y1="161.45" x2="867.6" y2="161.45" stroke="#4db6ac" stroke-width="0.9"/>
<line x1="73" y1="194.40" x2="867.6" y2="194.40" stroke="#7cc47f" stroke-width="0.8"/>
<line x1="73" y1="226.85" x2="867.6" y2="226.85" stroke="#ffd08a" stroke-width="1.7"/>
<line x1="73" y1="267.25" x2="867.6" y2="267.25" stroke="#ef5350" stroke-width="0.8"/>
<line x1="73" y1="332.45" x2="867.6" y2="332.45" stroke="#909090" stroke-width="0.9"/>
<line x1="7" y1="292.5" x2="965" y2="292.5" stroke="#ef5350" stroke-width="1.35" stroke-opacity="0.42" stroke-dasharray="1,0.67"/>
<line x1="60.75" y1="122.5" x2="831.9" y2="237.1" stroke="#131722" stroke-width="1.55" stroke-linecap="round"/>
<line x1="258" y1="282.75" x2="849.75" y2="241" stroke="#131722" stroke-width="1.55" stroke-linecap="round"/>
<line x1="22.20" y1="346.00" x2="22.20" y2="375.00" stroke="#26a69a" stroke-width="0.95" stroke-opacity="0.72"/>
<rect x="20.84" y="348.00" width="2.7" height="24.00" fill="#26a69a"/>
<line x1="25.18" y1="295.00" x2="25.18" y2="349.00" stroke="#26a69a" stroke-width="0.95" stroke-opacity="0.72"/>
<rect x="23.83" y="297.00" width="2.7" height="51.00" fill="#26a69a"/>
<line x1="28.17" y1="291.00" x2="28.17" y2="321.00" stroke="#26a69a" stroke-width="0.95" stroke-opacity="0.72"/>
<rect x="26.82" y="292.50" width="2.7" height="28.10" fill="#26a69a"/>
<line x1="31.16" y1="278.75" x2="31.16" y2="309.00" stroke="#ef5350" stroke-width="0.95" stroke-opacity="0.72"/>
<rect x="29.81" y="292.50" width="2.7" height="10.00" fill="#ef5350"/>
<line x1="34.14" y1="301.00" x2="34.14" y2="320.60" stroke="#ef5350" stroke-width="0.95" stroke-opacity="0.72"/>
<rect x="32.79" y="302.50" width="2.7" height="13.10" fill="#ef5350"/>
<line x1="37.13" y1="282.00" x2="37.13" y2="317.00" stroke="#26a69a" stroke-width="0.95" stroke-opacity="0.72"/>
<rect x="35.78" y="292.00" width="2.7" height="23.60" fill="#26a69a"/>
<line x1="40.12" y1="285.60" x2="40.12" y2="302.50" stroke="#26a69a" stroke-width="0.95" stroke-opacity="0.72"/>
<rect x="38.77" y="290.00" width="2.7" height="2.00" fill="#26a69a"/>
<line x1="43.10" y1="278.00" x2="43.10" y2="298.75" stroke="#ef5350" stroke-width="0.95" stroke-opacity="0.72"/>
<rect x="41.75" y="290.00" width="2.7" height="2.50" fill="#ef5350"/>
<line x1="46.09" y1="289.00" x2="46.09" y2="327.50" stroke="#ef5350" stroke-width="0.95" stroke-opacity="0.72"/>
<rect x="44.74" y="292.50" width="2.7" height="21.90" fill="#ef5350"/>
<line x1="49.08" y1="289.00" x2="49.08" y2="318.75" stroke="#26a69a" stroke-width="0.95" stroke-opacity="0.72"/>
<rect x="47.73" y="293.00" width="2.7" height="21.40" fill="#26a69a"/>
<line x1="52.06" y1="288.00" x2="52.06" y2="306.00" stroke="#ef5350" stroke-width="0.95" stroke-opacity="0.72"/>
<rect x="50.71" y="293.00" width="2.7" height="4.50" fill="#ef5350"/>
<line x1="55.05" y1="292.50" x2="55.05" y2="301.00" stroke="#26a69a" stroke-width="0.95" stroke-opacity="0.72"/>
<rect x="53.70" y="296.50" width="2.7" height="1.00" fill="#26a69a"/>
<line x1="58.04" y1="281.00" x2="58.04" y2="298.00" stroke="#26a69a" stroke-width="0.95" stroke-opacity="0.72"/>
<rect x="56.69" y="291.00" width="2.7" height="6.00" fill="#26a69a"/>
<line x1="61.03" y1="279.00" x2="61.03" y2="301.00" stroke="#26a69a" stroke-width="0.95" stroke-opacity="0.72"/>
<rect x="59.68" y="288.50" width="2.7" height="2.50" fill="#26a69a"/>
<line x1="64.01" y1="238.00" x2="64.01" y2="289.00" stroke="#26a69a" stroke-width="0.95" stroke-opacity="0.72"/>
<rect x="62.66" y="250.00" width="2.7" height="38.00" fill="#26a69a"/>
<line x1="67.00" y1="240.00" x2="67.00" y2="262.50" stroke="#ef5350" stroke-width="0.95" stroke-opacity="0.72"/>
<rect x="65.65" y="249.40" width="2.7" height="1.20" fill="#ef5350"/>
<line x1="69.99" y1="218.00" x2="69.99" y2="256.00" stroke="#26a69a" stroke-width="0.95" stroke-opacity="0.72"/>
<rect x="68.64" y="222.50" width="2.7" height="27.50" fill="#26a69a"/>
<line x1="72.97" y1="145.00" x2="72.97" y2="232.00" stroke="#26a69a" stroke-width="0.95" stroke-opacity="0.72"/>
<rect x="71.62" y="169.00" width="2.7" height="53.50" fill="#26a69a"/>
<line x1="75.96" y1="151.00" x2="75.96" y2="191.00" stroke="#26a69a" stroke-width="0.95" stroke-opacity="0.72"/>
<rect x="74.61" y="154.40" width="2.7" height="14.60" fill="#26a69a"/>
<line x1="78.95" y1="55.50" x2="78.95" y2="156.00" stroke="#26a69a" stroke-width="0.95" stroke-opacity="0.72"/>
<rect x="77.60" y="74.50" width="2.7" height="79.90" fill="#26a69a"/>
<line x1="81.94" y1="70.00" x2="81.94" y2="303.00" stroke="#ef5350" stroke-width="0.95" stroke-opacity="0.72"/>
<rect x="80.59" y="74.50" width="2.7" height="61.10" fill="#ef5350"/>
<line x1="84.92" y1="93.00" x2="84.92" y2="152.00" stroke="#26a69a" stroke-width="0.95" stroke-opacity="0.72"/>
<rect x="83.57" y="110.60" width="2.7" height="25.00" fill="#26a69a"/>
<line x1="87.91" y1="70.00" x2="87.91" y2="184.00" stroke="#ef5350" stroke-width="0.95" stroke-opacity="0.72"/>
<rect x="86.56" y="110.60" width="2.7" height="71.90" fill="#ef5350"/>
<line x1="90.90" y1="158.00" x2="90.90" y2="265.60" stroke="#ef5350" stroke-width="0.95" stroke-opacity="0.72"/>
<rect x="89.55" y="183.75" width="2.7" height="56.85" fill="#ef5350"/>
<line x1="93.88" y1="137.50" x2="93.88" y2="246.00" stroke="#26a69a" stroke-width="0.95" stroke-opacity="0.72"/>
<rect x="92.53" y="163.00" width="2.7" height="77.60" fill="#26a69a"/>
<line x1="96.87" y1="156.00" x2="96.87" y2="211.00" stroke="#ef5350" stroke-width="0.95" stroke-opacity="0.72"/>
<rect x="95.52" y="163.00" width="2.7" height="31.00" fill="#ef5350"/>
<line x1="99.86" y1="144.40" x2="99.86" y2="195.00" stroke="#26a69a" stroke-width="0.95" stroke-opacity="0.72"/>
<rect x="98.51" y="147.50" width="2.7" height="46.50" fill="#26a69a"/>
<line x1="102.84" y1="119.40" x2="102.84" y2="159.00" stroke="#ef5350" stroke-width="0.95" stroke-opacity="0.72"/>
<rect x="101.49" y="147.50" width="2.7" height="0.90" fill="#ef5350"/>
<line x1="105.83" y1="143.00" x2="105.83" y2="188.00" stroke="#ef5350" stroke-width="0.95" stroke-opacity="0.72"/>
<rect x="104.48" y="148.00" width="2.7" height="24.75" fill="#ef5350"/>
<line x1="108.82" y1="156.00" x2="108.82" y2="185.60" stroke="#26a69a" stroke-width="0.95" stroke-opacity="0.72"/>
<rect x="107.47" y="170.00" width="2.7" height="2.75" fill="#26a69a"/>
<line x1="111.81" y1="165.00" x2="111.81" y2="184.40" stroke="#ef5350" stroke-width="0.95" stroke-opacity="0.72"/>
<rect x="110.46" y="170.00" width="2.7" height="12.00" fill="#ef5350"/>
<line x1="114.79" y1="167.50" x2="114.79" y2="207.50" stroke="#ef5350" stroke-width="0.95" stroke-opacity="0.72"/>
<rect x="113.44" y="182.00" width="2.7" height="22.40" fill="#ef5350"/>
<line x1="117.78" y1="198.00" x2="117.78" y2="222.75" stroke="#26a69a" stroke-width="0.95" stroke-opacity="0.72"/>
<rect x="116.43" y="201.00" width="2.7" height="3.40" fill="#26a69a"/>
<line x1="120.77" y1="186.00" x2="120.77" y2="204.00" stroke="#26a69a" stroke-width="0.95" stroke-opacity="0.72"/>
<rect x="119.42" y="195.60" width="2.7" height="7.40" fill="#26a69a"/>
<line x1="123.75" y1="183.00" x2="123.75" y2="209.40" stroke="#26a69a" stroke-width="0.95" stroke-opacity="0.72"/>
<rect x="122.40" y="185.60" width="2.7" height="9.40" fill="#26a69a"/>
<line x1="126.74" y1="180.00" x2="126.74" y2="203.75" stroke="#ef5350" stroke-width="0.95" stroke-opacity="0.72"/>
<rect x="125.39" y="185.60" width="2.7" height="13.80" fill="#ef5350"/>
<line x1="129.73" y1="196.00" x2="129.73" y2="207.50" stroke="#26a69a" stroke-width="0.95" stroke-opacity="0.72"/>
<rect x="128.38" y="198.00" width="2.7" height="1.40" fill="#26a69a"/>
<line x1="132.71" y1="163.00" x2="132.71" y2="205.60" stroke="#26a69a" stroke-width="0.95" stroke-opacity="0.72"/>
<rect x="131.36" y="170.60" width="2.7" height="28.40" fill="#26a69a"/>
<line x1="135.70" y1="169.00" x2="135.70" y2="188.75" stroke="#ef5350" stroke-width="0.95" stroke-opacity="0.72"/>
<rect x="134.35" y="170.00" width="2.7" height="6.00" fill="#ef5350"/>
<line x1="138.69" y1="152.50" x2="138.69" y2="180.60" stroke="#26a69a" stroke-width="0.95" stroke-opacity="0.72"/>
<rect x="137.34" y="161.90" width="2.7" height="14.10" fill="#26a69a"/>
<line x1="141.68" y1="133.00" x2="141.68" y2="183.75" stroke="#ef5350" stroke-width="0.95" stroke-opacity="0.72"/>
<rect x="140.33" y="161.90" width="2.7" height="8.70" fill="#ef5350"/>
<line x1="144.66" y1="153.00" x2="144.66" y2="185.00" stroke="#26a69a" stroke-width="0.95" stroke-opacity="0.72"/>
<rect x="143.31" y="163.75" width="2.7" height="6.00" fill="#26a69a"/>
<line x1="147.65" y1="151.00" x2="147.65" y2="168.00" stroke="#26a69a" stroke-width="0.95" stroke-opacity="0.72"/>
<rect x="146.30" y="161.90" width="2.7" height="1.85" fill="#26a69a"/>
<line x1="150.64" y1="144.40" x2="150.64" y2="167.00" stroke="#26a69a" stroke-width="0.95" stroke-opacity="0.72"/>
<rect x="149.29" y="152.50" width="2.7" height="9.40" fill="#26a69a"/>
<line x1="153.62" y1="150.00" x2="153.62" y2="163.00" stroke="#ef5350" stroke-width="0.95" stroke-opacity="0.72"/>
<rect x="152.27" y="152.00" width="2.7" height="9.90" fill="#ef5350"/>
<line x1="156.61" y1="155.60" x2="156.61" y2="175.00" stroke="#ef5350" stroke-width="0.95" stroke-opacity="0.72"/>
<rect x="155.26" y="161.90" width="2.7" height="7.85" fill="#ef5350"/>
<line x1="159.60" y1="163.00" x2="159.60" y2="174.75" stroke="#26a69a" stroke-width="0.95" stroke-opacity="0.72"/>
<rect x="158.25" y="168.00" width="2.7" height="1.75" fill="#26a69a"/>
<line x1="162.58" y1="154.00" x2="162.58" y2="171.00" stroke="#26a69a" stroke-width="0.95" stroke-opacity="0.72"/>
<rect x="161.23" y="163.00" width="2.7" height="5.00" fill="#26a69a"/>
<line x1="165.57" y1="154.75" x2="165.57" y2="166.00" stroke="#ef5350" stroke-width="0.95" stroke-opacity="0.72"/>
<rect x="164.22" y="163.00" width="2.7" height="1.00" fill="#ef5350"/>
<line x1="168.56" y1="160.00" x2="168.56" y2="172.50" stroke="#ef5350" stroke-width="0.95" stroke-opacity="0.72"/>
<rect x="167.21" y="164.00" width="2.7" height="5.00" fill="#ef5350"/>
<line x1="171.55" y1="162.00" x2="171.55" y2="170.00" stroke="#26a69a" stroke-width="0.95" stroke-opacity="0.72"/>
<rect x="170.20" y="164.60" width="2.7" height="4.40" fill="#26a69a"/>
<line x1="174.53" y1="162.50" x2="174.53" y2="178.75" stroke="#ef5350" stroke-width="0.95" stroke-opacity="0.72"/>
<rect x="173.18" y="164.40" width="2.7" height="11.20" fill="#ef5350"/>
<line x1="177.52" y1="175.00" x2="177.52" y2="190.60" stroke="#ef5350" stroke-width="0.95" stroke-opacity="0.72"/>
<rect x="176.17" y="176.00" width="2.7" height="7.00" fill="#ef5350"/>
<line x1="180.51" y1="174.40" x2="180.51" y2="184.00" stroke="#26a69a" stroke-width="0.95" stroke-opacity="0.72"/>
<rect x="179.16" y="179.00" width="2.7" height="4.00" fill="#26a69a"/>
<line x1="183.49" y1="177.00" x2="183.49" y2="198.00" stroke="#ef5350" stroke-width="0.95" stroke-opacity="0.72"/>
<rect x="182.14" y="179.00" width="2.7" height="7.00" fill="#ef5350"/>
<line x1="186.48" y1="184.00" x2="186.48" y2="214.75" stroke="#ef5350" stroke-width="0.95" stroke-opacity="0.72"/>
<rect x="185.13" y="186.00" width="2.7" height="10.25" fill="#ef5350"/>
<line x1="189.47" y1="161.25" x2="189.47" y2="198.00" stroke="#26a69a" stroke-width="0.95" stroke-opacity="0.72"/>
<rect x="188.12" y="169.00" width="2.7" height="27.25" fill="#26a69a"/>
<line x1="192.45" y1="162.00" x2="192.45" y2="178.00" stroke="#ef5350" stroke-width="0.95" stroke-opacity="0.72"/>
<rect x="191.10" y="169.00" width="2.7" height="7.00" fill="#ef5350"/>
<line x1="195.44" y1="171.00" x2="195.44" y2="190.50" stroke="#ef5350" stroke-width="0.95" stroke-opacity="0.72"/>
<rect x="194.09" y="176.00" width="2.7" height="13.40" fill="#ef5350"/>
<line x1="198.43" y1="183.75" x2="198.43" y2="194.40" stroke="#26a69a" stroke-width="0.95" stroke-opacity="0.72"/>
<rect x="197.08" y="188.50" width="2.7" height="1.25" fill="#26a69a"/>
<line x1="201.41" y1="171.50" x2="201.41" y2="189.00" stroke="#26a69a" stroke-width="0.95" stroke-opacity="0.72"/>
<rect x="200.06" y="176.25" width="2.7" height="12.25" fill="#26a69a"/>
<line x1="204.40" y1="165.60" x2="204.40" y2="186.00" stroke="#ef5350" stroke-width="0.95" stroke-opacity="0.72"/>
<rect x="203.05" y="176.25" width="2.7" height="8.75" fill="#ef5350"/>
<line x1="207.39" y1="180.00" x2="207.39" y2="192.00" stroke="#ef5350" stroke-width="0.95" stroke-opacity="0.72"/>
<rect x="206.04" y="185.00" width="2.7" height="4.00" fill="#ef5350"/>
<line x1="210.38" y1="184.40" x2="210.38" y2="196.25" stroke="#26a69a" stroke-width="0.95" stroke-opacity="0.72"/>
<rect x="209.03" y="189.00" width="2.7" height="0.90" fill="#26a69a"/>
<line x1="213.36" y1="186.25" x2="213.36" y2="196.25" stroke="#ef5350" stroke-width="0.95" stroke-opacity="0.72"/>
<rect x="212.01" y="189.00" width="2.7" height="3.00" fill="#ef5350"/>
<line x1="216.35" y1="190.60" x2="216.35" y2="215.60" stroke="#ef5350" stroke-width="0.95" stroke-opacity="0.72"/>
<rect x="215.00" y="192.00" width="2.7" height="3.60" fill="#ef5350"/>
<line x1="219.34" y1="191.00" x2="219.34" y2="201.00" stroke="#26a69a" stroke-width="0.95" stroke-opacity="0.72"/>
<rect x="217.99" y="192.75" width="2.7" height="2.85" fill="#26a69a"/>
<line x1="222.32" y1="182.50" x2="222.32" y2="197.00" stroke="#26a69a" stroke-width="0.95" stroke-opacity="0.72"/>
<rect x="220.97" y="183.00" width="2.7" height="9.75" fill="#26a69a"/>
<line x1="225.31" y1="179.00" x2="225.31" y2="188.00" stroke="#ef5350" stroke-width="0.95" stroke-opacity="0.72"/>
<rect x="223.96" y="183.50" width="2.7" height="2.10" fill="#ef5350"/>
<line x1="228.30" y1="182.50" x2="228.30" y2="193.00" stroke="#ef5350" stroke-width="0.95" stroke-opacity="0.72"/>
<rect x="226.95" y="185.60" width="2.7" height="6.65" fill="#ef5350"/>
<line x1="231.28" y1="190.00" x2="231.28" y2="202.50" stroke="#ef5350" stroke-width="0.95" stroke-opacity="0.72"/>
<rect x="229.94" y="192.25" width="2.7" height="5.25" fill="#ef5350"/>
<line x1="234.27" y1="190.25" x2="234.27" y2="198.75" stroke="#26a69a" stroke-width="0.95" stroke-opacity="0.72"/>
<rect x="232.92" y="193.75" width="2.7" height="3.75" fill="#26a69a"/>
<line x1="237.26" y1="191.90" x2="237.26" y2="198.00" stroke="#ef5350" stroke-width="0.95" stroke-opacity="0.72"/>
<rect x="235.91" y="193.00" width="2.7" height="1.40" fill="#ef5350"/>
<line x1="240.25" y1="170.00" x2="240.25" y2="201.00" stroke="#26a69a" stroke-width="0.95" stroke-opacity="0.72"/>
<rect x="238.90" y="181.25" width="2.7" height="12.75" fill="#26a69a"/>
<line x1="243.23" y1="166.25" x2="243.23" y2="188.75" stroke="#26a69a" stroke-width="0.95" stroke-opacity="0.72"/>
<rect x="241.88" y="178.00" width="2.7" height="3.25" fill="#26a69a"/>
<line x1="246.22" y1="172.25" x2="246.22" y2="192.00" stroke="#ef5350" stroke-width="0.95" stroke-opacity="0.72"/>
<rect x="244.87" y="178.00" width="2.7" height="6.40" fill="#ef5350"/>
<line x1="249.21" y1="181.25" x2="249.21" y2="197.00" stroke="#ef5350" stroke-width="0.95" stroke-opacity="0.72"/>
<rect x="247.86" y="184.40" width="2.7" height="11.20" fill="#ef5350"/>
<line x1="252.19" y1="189.75" x2="252.19" y2="210.60" stroke="#ef5350" stroke-width="0.95" stroke-opacity="0.72"/>
<rect x="250.84" y="195.60" width="2.7" height="8.15" fill="#ef5350"/>
<line x1="255.18" y1="190.25" x2="255.18" y2="205.00" stroke="#26a69a" stroke-width="0.95" stroke-opacity="0.72"/>
<rect x="253.83" y="193.00" width="2.7" height="10.75" fill="#26a69a"/>
<line x1="258.17" y1="187.25" x2="258.17" y2="231.25" stroke="#ef5350" stroke-width="0.95" stroke-opacity="0.72"/>
<rect x="256.82" y="193.00" width="2.7" height="21.40" fill="#ef5350"/>
<line x1="261.15" y1="209.40" x2="261.15" y2="220.00" stroke="#26a69a" stroke-width="0.95" stroke-opacity="0.72"/>
<rect x="259.80" y="213.00" width="2.7" height="1.75" fill="#26a69a"/>
<line x1="264.14" y1="212.00" x2="264.14" y2="245.25" stroke="#ef5350" stroke-width="0.95" stroke-opacity="0.72"/>
<rect x="262.79" y="213.00" width="2.7" height="16.40" fill="#ef5350"/>
<line x1="267.13" y1="220.00" x2="267.13" y2="232.00" stroke="#26a69a" stroke-width="0.95" stroke-opacity="0.72"/>
<rect x="265.78" y="226.50" width="2.7" height="2.90" fill="#26a69a"/>
<line x1="270.12" y1="211.25" x2="270.12" y2="230.60" stroke="#26a69a" stroke-width="0.95" stroke-opacity="0.72"/>
<rect x="268.77" y="223.75" width="2.7" height="2.75" fill="#26a69a"/>
<line x1="273.10" y1="214.40" x2="273.10" y2="231.25" stroke="#26a69a" stroke-width="0.95" stroke-opacity="0.72"/>
<rect x="271.75" y="215.60" width="2.7" height="8.15" fill="#26a69a"/>
<line x1="276.09" y1="211.25" x2="276.09" y2="223.00" stroke="#ef5350" stroke-width="0.95" stroke-opacity="0.72"/>
<rect x="274.74" y="216.00" width="2.7" height="5.50" fill="#ef5350"/>
<line x1="279.08" y1="219.00" x2="279.08" y2="230.00" stroke="#ef5350" stroke-width="0.95" stroke-opacity="0.72"/>
<rect x="277.73" y="221.50" width="2.7" height="1.00" fill="#ef5350"/>
<line x1="282.06" y1="221.00" x2="282.06" y2="234.40" stroke="#ef5350" stroke-width="0.95" stroke-opacity="0.72"/>
<rect x="280.71" y="222.25" width="2.7" height="9.25" fill="#ef5350"/>
<line x1="285.05" y1="230.00" x2="285.05" y2="248.00" stroke="#ef5350" stroke-width="0.95" stroke-opacity="0.72"/>
<rect x="283.70" y="231.50" width="2.7" height="9.75" fill="#ef5350"/>
<line x1="288.04" y1="240.00" x2="288.04" y2="280.60" stroke="#ef5350" stroke-width="0.95" stroke-opacity="0.72"/>
<rect x="286.69" y="241.25" width="2.7" height="26.00" fill="#ef5350"/>
<line x1="291.02" y1="260.00" x2="291.02" y2="275.60" stroke="#26a69a" stroke-width="0.95" stroke-opacity="0.72"/>
<rect x="289.67" y="262.75" width="2.7" height="4.50" fill="#26a69a"/>
<line x1="294.01" y1="252.25" x2="294.01" y2="270.60" stroke="#26a69a" stroke-width="0.95" stroke-opacity="0.72"/>
<rect x="292.66" y="254.00" width="2.7" height="8.75" fill="#26a69a"/>
<line x1="297.00" y1="250.60" x2="297.00" y2="273.00" stroke="#ef5350" stroke-width="0.95" stroke-opacity="0.72"/>
<rect x="295.65" y="254.00" width="2.7" height="13.25" fill="#ef5350"/>
<line x1="299.99" y1="236.25" x2="299.99" y2="269.40" stroke="#26a69a" stroke-width="0.95" stroke-opacity="0.72"/>
<rect x="298.64" y="247.25" width="2.7" height="19.75" fill="#26a69a"/>
<line x1="302.97" y1="221.90" x2="302.97" y2="253.00" stroke="#26a69a" stroke-width="0.95" stroke-opacity="0.72"/>
<rect x="301.62" y="226.90" width="2.7" height="20.35" fill="#26a69a"/>
<line x1="305.96" y1="213.00" x2="305.96" y2="228.00" stroke="#26a69a" stroke-width="0.95" stroke-opacity="0.72"/>
<rect x="304.61" y="216.90" width="2.7" height="10.00" fill="#26a69a"/>
<line x1="308.95" y1="215.00" x2="308.95" y2="222.00" stroke="#ef5350" stroke-width="0.95" stroke-opacity="0.72"/>
<rect x="307.60" y="216.50" width="2.7" height="3.50" fill="#ef5350"/>
<line x1="311.93" y1="219.00" x2="311.93" y2="234.40" stroke="#ef5350" stroke-width="0.95" stroke-opacity="0.72"/>
<rect x="310.58" y="220.00" width="2.7" height="9.75" fill="#ef5350"/>
<line x1="314.92" y1="223.00" x2="314.92" y2="231.00" stroke="#ef5350" stroke-width="0.95" stroke-opacity="0.72"/>
<rect x="313.57" y="229.00" width="2.7" height="0.90" fill="#ef5350"/>
<line x1="317.91" y1="228.50" x2="317.91" y2="239.40" stroke="#ef5350" stroke-width="0.95" stroke-opacity="0.72"/>
<rect x="316.56" y="229.75" width="2.7" height="5.25" fill="#ef5350"/>
<line x1="320.89" y1="234.00" x2="320.89" y2="246.90" stroke="#ef5350" stroke-width="0.95" stroke-opacity="0.72"/>
<rect x="319.54" y="234.75" width="2.7" height="5.50" fill="#ef5350"/>
<line x1="323.88" y1="239.00" x2="323.88" y2="252.00" stroke="#ef5350" stroke-width="0.95" stroke-opacity="0.72"/>
<rect x="322.53" y="240.00" width="2.7" height="8.00" fill="#ef5350"/>
<line x1="326.87" y1="242.00" x2="326.87" y2="249.00" stroke="#26a69a" stroke-width="0.95" stroke-opacity="0.72"/>
<rect x="325.52" y="247.00" width="2.7" height="1.00" fill="#26a69a"/>
<line x1="329.86" y1="242.00" x2="329.86" y2="263.00" stroke="#ef5350" stroke-width="0.95" stroke-opacity="0.72"/>
<rect x="328.51" y="247.25" width="2.7" height="9.75" fill="#ef5350"/>
<line x1="332.84" y1="256.00" x2="332.84" y2="274.40" stroke="#ef5350" stroke-width="0.95" stroke-opacity="0.72"/>
<rect x="331.49" y="257.00" width="2.7" height="4.25" fill="#ef5350"/>
<line x1="335.83" y1="260.00" x2="335.83" y2="272.00" stroke="#ef5350" stroke-width="0.95" stroke-opacity="0.72"/>
<rect x="334.48" y="261.25" width="2.7" height="1.50" fill="#ef5350"/>
<line x1="338.82" y1="253.00" x2="338.82" y2="267.00" stroke="#26a69a" stroke-width="0.95" stroke-opacity="0.72"/>
<rect x="337.47" y="254.75" width="2.7" height="8.00" fill="#26a69a"/>
<line x1="341.80" y1="243.50" x2="341.80" y2="257.00" stroke="#26a69a" stroke-width="0.95" stroke-opacity="0.72"/>
<rect x="340.45" y="254.20" width="2.7" height="0.90" fill="#26a69a"/>
<line x1="344.79" y1="253.00" x2="344.79" y2="271.00" stroke="#ef5350" stroke-width="0.95" stroke-opacity="0.72"/>
<rect x="343.44" y="254.40" width="2.7" height="12.85" fill="#ef5350"/>
<line x1="347.78" y1="262.00" x2="347.78" y2="270.25" stroke="#ef5350" stroke-width="0.95" stroke-opacity="0.72"/>
<rect x="346.43" y="267.25" width="2.7" height="0.90" fill="#ef5350"/>
<line x1="350.76" y1="261.25" x2="350.76" y2="278.75" stroke="#26a69a" stroke-width="0.95" stroke-opacity="0.72"/>
<rect x="349.41" y="262.75" width="2.7" height="5.25" fill="#26a69a"/>
<line x1="353.75" y1="255.00" x2="353.75" y2="266.25" stroke="#26a69a" stroke-width="0.95" stroke-opacity="0.72"/>
<rect x="352.40" y="258.50" width="2.7" height="4.25" fill="#26a69a"/>
<line x1="356.74" y1="252.00" x2="356.74" y2="264.00" stroke="#ef5350" stroke-width="0.95" stroke-opacity="0.72"/>
<rect x="355.39" y="258.00" width="2.7" height="4.25" fill="#ef5350"/>
<line x1="359.73" y1="244.00" x2="359.73" y2="270.60" stroke="#26a69a" stroke-width="0.95" stroke-opacity="0.72"/>
<rect x="358.38" y="246.00" width="2.7" height="16.00" fill="#26a69a"/>
<line x1="362.71" y1="235.25" x2="362.71" y2="247.00" stroke="#26a69a" stroke-width="0.95" stroke-opacity="0.72"/>
<rect x="361.36" y="238.00" width="2.7" height="8.00" fill="#26a69a"/>
<line x1="365.70" y1="237.00" x2="365.70" y2="248.75" stroke="#ef5350" stroke-width="0.95" stroke-opacity="0.72"/>
<rect x="364.35" y="238.00" width="2.7" height="8.90" fill="#ef5350"/>
<line x1="368.69" y1="244.40" x2="368.69" y2="252.50" stroke="#26a69a" stroke-width="0.95" stroke-opacity="0.72"/>
<rect x="367.34" y="245.60" width="2.7" height="1.30" fill="#26a69a"/>
<line x1="371.67" y1="243.00" x2="371.67" y2="248.00" stroke="#26a69a" stroke-width="0.95" stroke-opacity="0.72"/>
<rect x="370.32" y="244.00" width="2.7" height="2.90" fill="#26a69a"/>
<line x1="374.66" y1="238.75" x2="374.66" y2="247.50" stroke="#26a69a" stroke-width="0.95" stroke-opacity="0.72"/>
<rect x="373.31" y="241.50" width="2.7" height="2.90" fill="#26a69a"/>
<line x1="377.65" y1="229.00" x2="377.65" y2="248.75" stroke="#ef5350" stroke-width="0.95" stroke-opacity="0.72"/>
<rect x="376.30" y="241.50" width="2.7" height="4.10" fill="#ef5350"/>
<line x1="380.63" y1="240.25" x2="380.63" y2="248.75" stroke="#26a69a" stroke-width="0.95" stroke-opacity="0.72"/>
<rect x="379.28" y="243.00" width="2.7" height="2.60" fill="#26a69a"/>
<line x1="383.62" y1="240.60" x2="383.62" y2="250.00" stroke="#26a69a" stroke-width="0.95" stroke-opacity="0.72"/>
<rect x="382.27" y="242.25" width="2.7" height="1.50" fill="#26a69a"/>
<line x1="386.61" y1="229.00" x2="386.61" y2="244.40" stroke="#26a69a" stroke-width="0.95" stroke-opacity="0.72"/>
<rect x="385.26" y="236.25" width="2.7" height="6.25" fill="#26a69a"/>
<line x1="389.60" y1="231.90" x2="389.60" y2="247.50" stroke="#ef5350" stroke-width="0.95" stroke-opacity="0.72"/>
<rect x="388.25" y="236.25" width="2.7" height="10.25" fill="#ef5350"/>
<line x1="392.58" y1="243.75" x2="392.58" y2="253.75" stroke="#ef5350" stroke-width="0.95" stroke-opacity="0.72"/>
<rect x="391.23" y="246.00" width="2.7" height="5.25" fill="#ef5350"/>
<line x1="395.57" y1="248.50" x2="395.57" y2="254.00" stroke="#26a69a" stroke-width="0.95" stroke-opacity="0.72"/>
<rect x="394.22" y="249.40" width="2.7" height="1.60" fill="#26a69a"/>
<line x1="398.56" y1="248.00" x2="398.56" y2="254.00" stroke="#ef5350" stroke-width="0.95" stroke-opacity="0.72"/>
<rect x="397.21" y="249.40" width="2.7" height="0.90" fill="#ef5350"/>
<line x1="401.54" y1="240.60" x2="401.54" y2="251.90" stroke="#26a69a" stroke-width="0.95" stroke-opacity="0.72"/>
<rect x="400.19" y="246.90" width="2.7" height="2.85" fill="#26a69a"/>
<line x1="404.53" y1="241.00" x2="404.53" y2="247.50" stroke="#26a69a" stroke-width="0.95" stroke-opacity="0.72"/>
<rect x="403.18" y="244.00" width="2.7" height="2.90" fill="#26a69a"/>
<line x1="407.52" y1="239.40" x2="407.52" y2="245.00" stroke="#26a69a" stroke-width="0.95" stroke-opacity="0.72"/>
<rect x="406.17" y="241.25" width="2.7" height="2.75" fill="#26a69a"/>
<line x1="410.50" y1="235.00" x2="410.50" y2="242.50" stroke="#26a69a" stroke-width="0.95" stroke-opacity="0.72"/>
<rect x="409.15" y="238.00" width="2.7" height="3.25" fill="#26a69a"/>
<line x1="413.49" y1="230.25" x2="413.49" y2="240.00" stroke="#26a69a" stroke-width="0.95" stroke-opacity="0.72"/>
<rect x="412.14" y="236.00" width="2.7" height="2.00" fill="#26a69a"/>
<line x1="416.48" y1="234.40" x2="416.48" y2="245.00" stroke="#ef5350" stroke-width="0.95" stroke-opacity="0.72"/>
<rect x="415.13" y="236.00" width="2.7" height="8.00" fill="#ef5350"/>
<line x1="419.47" y1="232.25" x2="419.47" y2="244.40" stroke="#26a69a" stroke-width="0.95" stroke-opacity="0.72"/>
<rect x="418.12" y="236.00" width="2.7" height="8.00" fill="#26a69a"/>
<line x1="422.45" y1="233.00" x2="422.45" y2="240.00" stroke="#ef5350" stroke-width="0.95" stroke-opacity="0.72"/>
<rect x="421.10" y="235.60" width="2.7" height="1.30" fill="#ef5350"/>
<line x1="425.44" y1="233.50" x2="425.44" y2="238.00" stroke="#ef5350" stroke-width="0.95" stroke-opacity="0.72"/>
<rect x="424.09" y="235.60" width="2.7" height="1.30" fill="#ef5350"/>
<line x1="428.43" y1="233.00" x2="428.43" y2="238.00" stroke="#ef5350" stroke-width="0.95" stroke-opacity="0.72"/>
<rect x="427.08" y="236.00" width="2.7" height="0.90" fill="#ef5350"/>
<line x1="431.41" y1="235.00" x2="431.41" y2="242.50" stroke="#ef5350" stroke-width="0.95" stroke-opacity="0.72"/>
<rect x="430.06" y="236.50" width="2.7" height="1.00" fill="#ef5350"/>
<line x1="434.40" y1="232.25" x2="434.40" y2="238.00" stroke="#26a69a" stroke-width="0.95" stroke-opacity="0.72"/>
<rect x="433.05" y="235.00" width="2.7" height="2.50" fill="#26a69a"/>
<line x1="437.39" y1="234.00" x2="437.39" y2="237.50" stroke="#ef5350" stroke-width="0.95" stroke-opacity="0.72"/>
<rect x="436.04" y="234.75" width="2.7" height="1.75" fill="#ef5350"/>
<line x1="440.38" y1="233.00" x2="440.38" y2="240.60" stroke="#ef5350" stroke-width="0.95" stroke-opacity="0.72"/>
<rect x="439.02" y="236.50" width="2.7" height="3.50" fill="#ef5350"/>
<line x1="443.36" y1="235.60" x2="443.36" y2="241.00" stroke="#ef5350" stroke-width="0.95" stroke-opacity="0.72"/>
<rect x="442.01" y="238.75" width="2.7" height="1.25" fill="#ef5350"/>
<line x1="446.35" y1="215.00" x2="446.35" y2="240.50" stroke="#26a69a" stroke-width="0.95" stroke-opacity="0.72"/>
<rect x="445.00" y="222.50" width="2.7" height="17.50" fill="#26a69a"/>
<line x1="449.34" y1="208.50" x2="449.34" y2="223.75" stroke="#26a69a" stroke-width="0.95" stroke-opacity="0.72"/>
<rect x="447.99" y="218.75" width="2.7" height="3.75" fill="#26a69a"/>
<line x1="452.32" y1="216.25" x2="452.32" y2="229.75" stroke="#ef5350" stroke-width="0.95" stroke-opacity="0.72"/>
<rect x="450.97" y="218.00" width="2.7" height="10.00" fill="#ef5350"/>
<line x1="455.31" y1="225.00" x2="455.31" y2="230.25" stroke="#26a69a" stroke-width="0.95" stroke-opacity="0.72"/>
<rect x="453.96" y="226.00" width="2.7" height="2.00" fill="#26a69a"/>
<line x1="458.30" y1="218.00" x2="458.30" y2="227.00" stroke="#26a69a" stroke-width="0.95" stroke-opacity="0.72"/>
<rect x="456.95" y="224.00" width="2.7" height="2.00" fill="#26a69a"/>
<line x1="461.28" y1="196.50" x2="461.28" y2="224.50" stroke="#26a69a" stroke-width="0.95" stroke-opacity="0.72"/>
<rect x="459.93" y="204.40" width="2.7" height="19.60" fill="#26a69a"/>
<line x1="464.27" y1="199.75" x2="464.27" y2="219.75" stroke="#ef5350" stroke-width="0.95" stroke-opacity="0.72"/>
<rect x="462.92" y="204.40" width="2.7" height="8.60" fill="#ef5350"/>
<line x1="467.26" y1="210.00" x2="467.26" y2="220.60" stroke="#ef5350" stroke-width="0.95" stroke-opacity="0.72"/>
<rect x="465.91" y="213.00" width="2.7" height="2.60" fill="#ef5350"/>
<line x1="470.25" y1="205.00" x2="470.25" y2="216.00" stroke="#26a69a" stroke-width="0.95" stroke-opacity="0.72"/>
<rect x="468.89" y="209.00" width="2.7" height="6.60" fill="#26a69a"/>
<line x1="473.23" y1="196.25" x2="473.23" y2="209.50" stroke="#26a69a" stroke-width="0.95" stroke-opacity="0.72"/>
<rect x="471.88" y="201.25" width="2.7" height="7.75" fill="#26a69a"/>
<line x1="476.22" y1="200.00" x2="476.22" y2="213.50" stroke="#ef5350" stroke-width="0.95" stroke-opacity="0.72"/>
<rect x="474.87" y="201.00" width="2.7" height="11.75" fill="#ef5350"/>
<line x1="479.21" y1="205.60" x2="479.21" y2="220.00" stroke="#26a69a" stroke-width="0.95" stroke-opacity="0.72"/>
<rect x="477.86" y="208.00" width="2.7" height="4.25" fill="#26a69a"/>
<line x1="482.19" y1="203.00" x2="482.19" y2="223.75" stroke="#ef5350" stroke-width="0.95" stroke-opacity="0.72"/>
<rect x="480.84" y="208.00" width="2.7" height="8.25" fill="#ef5350"/>
<line x1="485.18" y1="211.90" x2="485.18" y2="218.75" stroke="#26a69a" stroke-width="0.95" stroke-opacity="0.72"/>
<rect x="483.83" y="215.60" width="2.7" height="0.90" fill="#26a69a"/>
<line x1="488.17" y1="210.60" x2="488.17" y2="216.00" stroke="#26a69a" stroke-width="0.95" stroke-opacity="0.72"/>
<rect x="486.82" y="213.50" width="2.7" height="2.10" fill="#26a69a"/>
<line x1="491.15" y1="205.00" x2="491.15" y2="216.90" stroke="#26a69a" stroke-width="0.95" stroke-opacity="0.72"/>
<rect x="489.80" y="213.00" width="2.7" height="0.90" fill="#26a69a"/>
<line x1="494.14" y1="206.00" x2="494.14" y2="214.00" stroke="#26a69a" stroke-width="0.95" stroke-opacity="0.72"/>
<rect x="492.79" y="207.25" width="2.7" height="5.75" fill="#26a69a"/>
<line x1="497.13" y1="188.50" x2="497.13" y2="208.00" stroke="#26a69a" stroke-width="0.95" stroke-opacity="0.72"/>
<rect x="495.78" y="191.50" width="2.7" height="15.75" fill="#26a69a"/>
<line x1="500.12" y1="186.50" x2="500.12" y2="199.40" stroke="#ef5350" stroke-width="0.95" stroke-opacity="0.72"/>
<rect x="498.76" y="191.50" width="2.7" height="4.10" fill="#ef5350"/>
<line x1="503.10" y1="192.50" x2="503.10" y2="201.25" stroke="#26a69a" stroke-width="0.95" stroke-opacity="0.72"/>
<rect x="501.75" y="194.00" width="2.7" height="1.00" fill="#26a69a"/>
<line x1="506.09" y1="193.00" x2="506.09" y2="198.50" stroke="#ef5350" stroke-width="0.95" stroke-opacity="0.72"/>
<rect x="504.74" y="193.75" width="2.7" height="1.25" fill="#ef5350"/>
<line x1="509.08" y1="193.00" x2="509.08" y2="204.00" stroke="#ef5350" stroke-width="0.95" stroke-opacity="0.72"/>
<rect x="507.73" y="194.40" width="2.7" height="8.60" fill="#ef5350"/>
<line x1="512.06" y1="202.00" x2="512.06" y2="211.90" stroke="#ef5350" stroke-width="0.95" stroke-opacity="0.72"/>
<rect x="510.71" y="203.00" width="2.7" height="6.75" fill="#ef5350"/>
<line x1="515.05" y1="204.00" x2="515.05" y2="210.50" stroke="#26a69a" stroke-width="0.95" stroke-opacity="0.72"/>
<rect x="513.70" y="206.90" width="2.7" height="2.85" fill="#26a69a"/>
<line x1="518.04" y1="204.40" x2="518.04" y2="214.40" stroke="#ef5350" stroke-width="0.95" stroke-opacity="0.72"/>
<rect x="516.69" y="206.90" width="2.7" height="3.70" fill="#ef5350"/>
<line x1="521.02" y1="201.90" x2="521.02" y2="211.00" stroke="#26a69a" stroke-width="0.95" stroke-opacity="0.72"/>
<rect x="519.67" y="206.90" width="2.7" height="3.70" fill="#26a69a"/>
<line x1="524.01" y1="205.60" x2="524.01" y2="209.00" stroke="#ef5350" stroke-width="0.95" stroke-opacity="0.72"/>
<rect x="522.66" y="206.90" width="2.7" height="0.90" fill="#ef5350"/>
<line x1="527.00" y1="204.75" x2="527.00" y2="210.00" stroke="#ef5350" stroke-width="0.95" stroke-opacity="0.72"/>
<rect x="525.65" y="207.50" width="2.7" height="1.90" fill="#ef5350"/>
<line x1="529.99" y1="206.25" x2="529.99" y2="216.50" stroke="#ef5350" stroke-width="0.95" stroke-opacity="0.72"/>
<rect x="528.63" y="209.40" width="2.7" height="6.60" fill="#ef5350"/>
<line x1="532.97" y1="210.50" x2="532.97" y2="216.50" stroke="#26a69a" stroke-width="0.95" stroke-opacity="0.72"/>
<rect x="531.62" y="211.25" width="2.7" height="4.75" fill="#26a69a"/>
<line x1="535.96" y1="209.00" x2="535.96" y2="214.40" stroke="#ef5350" stroke-width="0.95" stroke-opacity="0.72"/>
<rect x="534.61" y="211.00" width="2.7" height="1.75" fill="#ef5350"/>
<line x1="538.95" y1="212.00" x2="538.95" y2="216.90" stroke="#ef5350" stroke-width="0.95" stroke-opacity="0.72"/>
<rect x="537.60" y="212.75" width="2.7" height="1.65" fill="#ef5350"/>
<line x1="541.93" y1="213.75" x2="541.93" y2="220.00" stroke="#ef5350" stroke-width="0.95" stroke-opacity="0.72"/>
<rect x="540.58" y="214.40" width="2.7" height="2.85" fill="#ef5350"/>
<line x1="544.92" y1="212.50" x2="544.92" y2="217.50" stroke="#26a69a" stroke-width="0.95" stroke-opacity="0.72"/>
<rect x="543.57" y="213.00" width="2.7" height="4.25" fill="#26a69a"/>
<line x1="547.91" y1="208.50" x2="547.91" y2="213.50" stroke="#26a69a" stroke-width="0.95" stroke-opacity="0.72"/>
<rect x="546.56" y="209.40" width="2.7" height="3.60" fill="#26a69a"/>
<line x1="550.89" y1="206.90" x2="550.89" y2="212.50" stroke="#ef5350" stroke-width="0.95" stroke-opacity="0.72"/>
<rect x="549.54" y="209.40" width="2.7" height="2.50" fill="#ef5350"/>
<line x1="553.88" y1="209.50" x2="553.88" y2="213.00" stroke="#26a69a" stroke-width="0.95" stroke-opacity="0.72"/>
<rect x="552.53" y="210.25" width="2.7" height="1.65" fill="#26a69a"/>
<line x1="556.87" y1="207.00" x2="556.87" y2="211.00" stroke="#26a69a" stroke-width="0.95" stroke-opacity="0.72"/>
<rect x="555.52" y="207.90" width="2.7" height="2.70" fill="#26a69a"/>
<line x1="559.86" y1="206.50" x2="559.86" y2="209.00" stroke="#26a69a" stroke-width="0.95" stroke-opacity="0.72"/>
<rect x="558.50" y="207.50" width="2.7" height="0.90" fill="#26a69a"/>
<line x1="562.84" y1="207.00" x2="562.84" y2="213.50" stroke="#ef5350" stroke-width="0.95" stroke-opacity="0.72"/>
<rect x="561.49" y="207.90" width="2.7" height="5.10" fill="#ef5350"/>
<line x1="565.83" y1="212.50" x2="565.83" y2="238.00" stroke="#ef5350" stroke-width="0.95" stroke-opacity="0.72"/>
<rect x="564.48" y="213.00" width="2.7" height="12.00" fill="#ef5350"/>
<line x1="568.82" y1="224.50" x2="568.82" y2="232.00" stroke="#ef5350" stroke-width="0.95" stroke-opacity="0.72"/>
<rect x="567.47" y="225.60" width="2.7" height="2.90" fill="#ef5350"/>
<line x1="571.80" y1="222.50" x2="571.80" y2="237.00" stroke="#ef5350" stroke-width="0.95" stroke-opacity="0.72"/>
<rect x="570.45" y="228.50" width="2.7" height="5.50" fill="#ef5350"/>
<line x1="574.79" y1="228.00" x2="574.79" y2="236.00" stroke="#26a69a" stroke-width="0.95" stroke-opacity="0.72"/>
<rect x="573.44" y="228.75" width="2.7" height="5.25" fill="#26a69a"/>
<line x1="577.78" y1="226.90" x2="577.78" y2="230.00" stroke="#26a69a" stroke-width="0.95" stroke-opacity="0.72"/>
<rect x="576.43" y="227.75" width="2.7" height="1.25" fill="#26a69a"/>
<line x1="580.76" y1="228.00" x2="580.76" y2="251.90" stroke="#ef5350" stroke-width="0.95" stroke-opacity="0.72"/>
<rect x="579.41" y="229.00" width="2.7" height="17.90" fill="#ef5350"/>
<line x1="583.75" y1="240.60" x2="583.75" y2="248.75" stroke="#ef5350" stroke-width="0.95" stroke-opacity="0.72"/>
<rect x="582.40" y="246.00" width="2.7" height="0.90" fill="#ef5350"/>
<line x1="586.74" y1="245.00" x2="586.74" y2="254.00" stroke="#ef5350" stroke-width="0.95" stroke-opacity="0.72"/>
<rect x="585.39" y="246.90" width="2.7" height="5.00" fill="#ef5350"/>
<line x1="589.73" y1="251.00" x2="589.73" y2="256.00" stroke="#ef5350" stroke-width="0.95" stroke-opacity="0.72"/>
<rect x="588.38" y="251.90" width="2.7" height="2.60" fill="#ef5350"/>
<line x1="592.71" y1="248.00" x2="592.71" y2="255.50" stroke="#26a69a" stroke-width="0.95" stroke-opacity="0.72"/>
<rect x="591.36" y="249.40" width="2.7" height="5.10" fill="#26a69a"/>
<line x1="595.70" y1="248.00" x2="595.70" y2="252.00" stroke="#26a69a" stroke-width="0.95" stroke-opacity="0.72"/>
<rect x="594.35" y="249.00" width="2.7" height="1.60" fill="#26a69a"/>
<line x1="598.69" y1="242.50" x2="598.69" y2="251.00" stroke="#26a69a" stroke-width="0.95" stroke-opacity="0.72"/>
<rect x="597.34" y="243.50" width="2.7" height="7.10" fill="#26a69a"/>
<line x1="601.67" y1="241.25" x2="601.67" y2="245.60" stroke="#ef5350" stroke-width="0.95" stroke-opacity="0.72"/>
<rect x="600.32" y="243.00" width="2.7" height="1.75" fill="#ef5350"/>
<line x1="604.66" y1="240.00" x2="604.66" y2="247.50" stroke="#ef5350" stroke-width="0.95" stroke-opacity="0.72"/>
<rect x="603.31" y="244.75" width="2.7" height="1.75" fill="#ef5350"/>
<line x1="607.65" y1="242.50" x2="607.65" y2="250.00" stroke="#ef5350" stroke-width="0.95" stroke-opacity="0.72"/>
<rect x="606.30" y="246.00" width="2.7" height="0.90" fill="#ef5350"/>
<line x1="610.63" y1="245.00" x2="610.63" y2="256.00" stroke="#ef5350" stroke-width="0.95" stroke-opacity="0.72"/>
<rect x="609.28" y="246.90" width="2.7" height="8.10" fill="#ef5350"/>
<line x1="613.62" y1="251.00" x2="613.62" y2="256.00" stroke="#26a69a" stroke-width="0.95" stroke-opacity="0.72"/>
<rect x="612.27" y="252.00" width="2.7" height="3.00" fill="#26a69a"/>
<line x1="616.61" y1="251.50" x2="616.61" y2="255.00" stroke="#ef5350" stroke-width="0.95" stroke-opacity="0.72"/>
<rect x="615.26" y="252.00" width="2.7" height="2.00" fill="#ef5350"/>
<line x1="619.60" y1="247.25" x2="619.60" y2="255.00" stroke="#26a69a" stroke-width="0.95" stroke-opacity="0.72"/>
<rect x="618.25" y="248.75" width="2.7" height="5.25" fill="#26a69a"/>
<line x1="622.58" y1="245.60" x2="622.58" y2="249.50" stroke="#26a69a" stroke-width="0.95" stroke-opacity="0.72"/>
<rect x="621.23" y="246.50" width="2.7" height="2.25" fill="#26a69a"/>
<line x1="625.57" y1="238.75" x2="625.57" y2="247.50" stroke="#26a69a" stroke-width="0.95" stroke-opacity="0.72"/>
<rect x="624.22" y="240.25" width="2.7" height="6.65" fill="#26a69a"/>
<line x1="628.56" y1="230.25" x2="628.56" y2="241.00" stroke="#26a69a" stroke-width="0.95" stroke-opacity="0.72"/>
<rect x="627.21" y="236.25" width="2.7" height="4.00" fill="#26a69a"/>
<line x1="631.54" y1="235.50" x2="631.54" y2="243.75" stroke="#ef5350" stroke-width="0.95" stroke-opacity="0.72"/>
<rect x="630.19" y="236.25" width="2.7" height="1.75" fill="#ef5350"/>
<line x1="634.53" y1="237.00" x2="634.53" y2="247.50" stroke="#ef5350" stroke-width="0.95" stroke-opacity="0.72"/>
<rect x="633.18" y="238.00" width="2.7" height="5.50" fill="#ef5350"/>
<line x1="637.52" y1="243.00" x2="637.52" y2="250.60" stroke="#ef5350" stroke-width="0.95" stroke-opacity="0.72"/>
<rect x="636.17" y="243.50" width="2.7" height="4.50" fill="#ef5350"/>
<line x1="640.50" y1="247.00" x2="640.50" y2="252.50" stroke="#ef5350" stroke-width="0.95" stroke-opacity="0.72"/>
<rect x="639.15" y="248.00" width="2.7" height="2.60" fill="#ef5350"/>
<line x1="643.49" y1="243.75" x2="643.49" y2="252.75" stroke="#26a69a" stroke-width="0.95" stroke-opacity="0.72"/>
<rect x="642.14" y="244.75" width="2.7" height="5.85" fill="#26a69a"/>
<line x1="646.48" y1="244.50" x2="646.48" y2="249.00" stroke="#ef5350" stroke-width="0.95" stroke-opacity="0.72"/>
<rect x="645.13" y="245.25" width="2.7" height="2.00" fill="#ef5350"/>
<line x1="649.47" y1="245.00" x2="649.47" y2="248.50" stroke="#ef5350" stroke-width="0.95" stroke-opacity="0.72"/>
<rect x="648.12" y="247.25" width="2.7" height="0.90" fill="#ef5350"/>
<line x1="652.45" y1="242.25" x2="652.45" y2="248.00" stroke="#26a69a" stroke-width="0.95" stroke-opacity="0.72"/>
<rect x="651.10" y="243.50" width="2.7" height="4.00" fill="#26a69a"/>
<line x1="655.44" y1="240.25" x2="655.44" y2="244.50" stroke="#26a69a" stroke-width="0.95" stroke-opacity="0.72"/>
<rect x="654.09" y="241.50" width="2.7" height="2.25" fill="#26a69a"/>
<line x1="658.43" y1="240.60" x2="658.43" y2="244.00" stroke="#ef5350" stroke-width="0.95" stroke-opacity="0.72"/>
<rect x="657.08" y="241.90" width="2.7" height="1.10" fill="#ef5350"/>
<line x1="661.41" y1="239.00" x2="661.41" y2="245.60" stroke="#26a69a" stroke-width="0.95" stroke-opacity="0.72"/>
<rect x="660.06" y="241.25" width="2.7" height="1.75" fill="#26a69a"/>
<line x1="664.40" y1="240.25" x2="664.40" y2="243.50" stroke="#ef5350" stroke-width="0.95" stroke-opacity="0.72"/>
<rect x="663.05" y="241.25" width="2.7" height="1.50" fill="#ef5350"/>
<line x1="667.39" y1="237.50" x2="667.39" y2="243.00" stroke="#26a69a" stroke-width="0.95" stroke-opacity="0.72"/>
<rect x="666.04" y="241.00" width="2.7" height="1.50" fill="#26a69a"/>
<line x1="670.37" y1="228.00" x2="670.37" y2="242.00" stroke="#26a69a" stroke-width="0.95" stroke-opacity="0.72"/>
<rect x="669.02" y="229.00" width="2.7" height="12.25" fill="#26a69a"/>
<line x1="673.36" y1="225.25" x2="673.36" y2="235.60" stroke="#ef5350" stroke-width="0.95" stroke-opacity="0.72"/>
<rect x="672.01" y="229.00" width="2.7" height="5.40" fill="#ef5350"/>
<line x1="676.35" y1="230.50" x2="676.35" y2="235.00" stroke="#26a69a" stroke-width="0.95" stroke-opacity="0.72"/>
<rect x="675.00" y="231.50" width="2.7" height="2.90" fill="#26a69a"/>
<line x1="679.34" y1="225.60" x2="679.34" y2="233.75" stroke="#26a69a" stroke-width="0.95" stroke-opacity="0.72"/>
<rect x="677.99" y="230.00" width="2.7" height="1.50" fill="#26a69a"/>
<line x1="682.32" y1="226.25" x2="682.32" y2="235.50" stroke="#ef5350" stroke-width="0.95" stroke-opacity="0.72"/>
<rect x="680.97" y="230.00" width="2.7" height="4.75" fill="#ef5350"/>
<line x1="685.31" y1="231.25" x2="685.31" y2="236.25" stroke="#26a69a" stroke-width="0.95" stroke-opacity="0.72"/>
<rect x="683.96" y="234.00" width="2.7" height="0.90" fill="#26a69a"/>
<line x1="688.30" y1="231.50" x2="688.30" y2="237.50" stroke="#ef5350" stroke-width="0.95" stroke-opacity="0.72"/>
<rect x="686.95" y="233.00" width="2.7" height="3.00" fill="#ef5350"/>
<line x1="691.28" y1="227.25" x2="691.28" y2="236.00" stroke="#26a69a" stroke-width="0.95" stroke-opacity="0.72"/>
<rect x="689.93" y="228.50" width="2.7" height="7.10" fill="#26a69a"/>
<line x1="694.27" y1="220.00" x2="694.27" y2="229.00" stroke="#26a69a" stroke-width="0.95" stroke-opacity="0.72"/>
<rect x="692.92" y="224.75" width="2.7" height="3.75" fill="#26a69a"/>
<line x1="697.26" y1="223.50" x2="697.26" y2="231.25" stroke="#ef5350" stroke-width="0.95" stroke-opacity="0.72"/>
<rect x="695.91" y="224.75" width="2.7" height="4.00" fill="#ef5350"/>
<line x1="700.24" y1="226.25" x2="700.24" y2="230.60" stroke="#ef5350" stroke-width="0.95" stroke-opacity="0.72"/>
<rect x="698.89" y="227.50" width="2.7" height="1.00" fill="#ef5350"/>
<line x1="703.23" y1="225.25" x2="703.23" y2="228.50" stroke="#26a69a" stroke-width="0.95" stroke-opacity="0.72"/>
<rect x="701.88" y="226.25" width="2.7" height="1.75" fill="#26a69a"/>
<line x1="706.22" y1="226.00" x2="706.22" y2="231.90" stroke="#ef5350" stroke-width="0.95" stroke-opacity="0.72"/>
<rect x="704.87" y="227.50" width="2.7" height="2.50" fill="#ef5350"/>
<line x1="709.21" y1="220.00" x2="709.21" y2="231.50" stroke="#ef5350" stroke-width="0.95" stroke-opacity="0.72"/>
<rect x="707.86" y="229.75" width="2.7" height="1.25" fill="#ef5350"/>
<line x1="712.19" y1="229.40" x2="712.19" y2="236.90" stroke="#26a69a" stroke-width="0.95" stroke-opacity="0.72"/>
<rect x="710.84" y="230.50" width="2.7" height="0.90" fill="#26a69a"/>
<line x1="715.18" y1="230.00" x2="715.18" y2="243.50" stroke="#ef5350" stroke-width="0.95" stroke-opacity="0.72"/>
<rect x="713.83" y="230.60" width="2.7" height="8.15" fill="#ef5350"/>
<line x1="718.17" y1="237.00" x2="718.17" y2="243.00" stroke="#26a69a" stroke-width="0.95" stroke-opacity="0.72"/>
<rect x="716.82" y="237.75" width="2.7" height="1.00" fill="#26a69a"/>
<line x1="721.15" y1="237.00" x2="721.15" y2="242.00" stroke="#ef5350" stroke-width="0.95" stroke-opacity="0.72"/>
<rect x="719.80" y="237.75" width="2.7" height="3.50" fill="#ef5350"/>
<line x1="724.14" y1="240.00" x2="724.14" y2="246.90" stroke="#ef5350" stroke-width="0.95" stroke-opacity="0.72"/>
<rect x="722.79" y="241.00" width="2.7" height="1.75" fill="#ef5350"/>
<line x1="727.13" y1="235.60" x2="727.13" y2="243.50" stroke="#26a69a" stroke-width="0.95" stroke-opacity="0.72"/>
<rect x="725.78" y="238.00" width="2.7" height="4.75" fill="#26a69a"/>
<line x1="730.11" y1="237.00" x2="730.11" y2="243.00" stroke="#ef5350" stroke-width="0.95" stroke-opacity="0.72"/>
<rect x="728.76" y="238.00" width="2.7" height="3.25" fill="#ef5350"/>
<line x1="733.10" y1="236.50" x2="733.10" y2="251.25" stroke="#26a69a" stroke-width="0.95" stroke-opacity="0.72"/>
<rect x="731.75" y="237.25" width="2.7" height="3.75" fill="#26a69a"/>
<line x1="736.09" y1="234.00" x2="736.09" y2="240.60" stroke="#26a69a" stroke-width="0.95" stroke-opacity="0.72"/>
<rect x="734.74" y="234.75" width="2.7" height="2.75" fill="#26a69a"/>
<line x1="739.08" y1="232.50" x2="739.08" y2="236.50" stroke="#26a69a" stroke-width="0.95" stroke-opacity="0.72"/>
<rect x="737.73" y="234.75" width="2.7" height="0.90" fill="#26a69a"/>
<line x1="742.06" y1="234.00" x2="742.06" y2="238.50" stroke="#ef5350" stroke-width="0.95" stroke-opacity="0.72"/>
<rect x="740.71" y="235.00" width="2.7" height="2.75" fill="#ef5350"/>
<line x1="745.05" y1="235.00" x2="745.05" y2="239.40" stroke="#26a69a" stroke-width="0.95" stroke-opacity="0.72"/>
<rect x="743.70" y="236.00" width="2.7" height="1.75" fill="#26a69a"/>
<line x1="748.04" y1="234.00" x2="748.04" y2="242.00" stroke="#ef5350" stroke-width="0.95" stroke-opacity="0.72"/>
<rect x="746.69" y="235.60" width="2.7" height="5.90" fill="#ef5350"/>
<line x1="751.02" y1="237.50" x2="751.02" y2="243.00" stroke="#26a69a" stroke-width="0.95" stroke-opacity="0.72"/>
<rect x="749.67" y="240.75" width="2.7" height="0.90" fill="#26a69a"/>
<line x1="754.01" y1="239.00" x2="754.01" y2="242.50" stroke="#26a69a" stroke-width="0.95" stroke-opacity="0.72"/>
<rect x="752.66" y="239.75" width="2.7" height="1.75" fill="#26a69a"/>
<line x1="757.00" y1="238.50" x2="757.00" y2="241.50" stroke="#ef5350" stroke-width="0.95" stroke-opacity="0.72"/>
<rect x="755.65" y="239.40" width="2.7" height="1.10" fill="#ef5350"/>
<line x1="759.98" y1="237.50" x2="759.98" y2="241.00" stroke="#26a69a" stroke-width="0.95" stroke-opacity="0.72"/>
<rect x="758.63" y="238.50" width="2.7" height="1.50" fill="#26a69a"/>
<line x1="762.97" y1="234.00" x2="762.97" y2="240.00" stroke="#ef5350" stroke-width="0.95" stroke-opacity="0.72"/>
<rect x="761.62" y="237.75" width="2.7" height="1.25" fill="#ef5350"/>
<line x1="765.96" y1="238.00" x2="765.96" y2="241.00" stroke="#ef5350" stroke-width="0.95" stroke-opacity="0.72"/>
<rect x="764.61" y="238.50" width="2.7" height="1.75" fill="#ef5350"/>
<line x1="768.95" y1="239.50" x2="768.95" y2="249.40" stroke="#ef5350" stroke-width="0.95" stroke-opacity="0.72"/>
<rect x="767.60" y="240.25" width="2.7" height="6.65" fill="#ef5350"/>
<line x1="771.93" y1="245.50" x2="771.93" y2="303.00" stroke="#ef5350" stroke-width="0.95" stroke-opacity="0.72"/>
<rect x="770.58" y="246.25" width="2.7" height="30.65" fill="#ef5350"/>
<line x1="774.92" y1="265.25" x2="774.92" y2="278.00" stroke="#26a69a" stroke-width="0.95" stroke-opacity="0.72"/>
<rect x="773.57" y="268.00" width="2.7" height="8.90" fill="#26a69a"/>
<line x1="777.91" y1="267.00" x2="777.91" y2="282.00" stroke="#ef5350" stroke-width="0.95" stroke-opacity="0.72"/>
<rect x="776.56" y="268.00" width="2.7" height="4.25" fill="#ef5350"/>
<line x1="780.89" y1="268.75" x2="780.89" y2="274.00" stroke="#ef5350" stroke-width="0.95" stroke-opacity="0.72"/>
<rect x="779.54" y="272.25" width="2.7" height="0.90" fill="#ef5350"/>
<line x1="783.88" y1="268.75" x2="783.88" y2="275.60" stroke="#26a69a" stroke-width="0.95" stroke-opacity="0.72"/>
<rect x="782.53" y="271.50" width="2.7" height="1.25" fill="#26a69a"/>
<line x1="786.87" y1="266.00" x2="786.87" y2="273.00" stroke="#26a69a" stroke-width="0.95" stroke-opacity="0.72"/>
<rect x="785.52" y="269.40" width="2.7" height="2.50" fill="#26a69a"/>
<line x1="789.85" y1="269.00" x2="789.85" y2="307.00" stroke="#ef5350" stroke-width="0.95" stroke-opacity="0.72"/>
<rect x="788.50" y="270.00" width="2.7" height="30.00" fill="#ef5350"/>
<line x1="792.84" y1="298.75" x2="792.84" y2="332.50" stroke="#ef5350" stroke-width="0.95" stroke-opacity="0.72"/>
<rect x="791.49" y="300.00" width="2.7" height="4.00" fill="#ef5350"/>
<line x1="795.83" y1="299.40" x2="795.83" y2="310.60" stroke="#26a69a" stroke-width="0.95" stroke-opacity="0.72"/>
<rect x="794.48" y="302.75" width="2.7" height="1.25" fill="#26a69a"/>
<line x1="798.82" y1="286.25" x2="798.82" y2="303.50" stroke="#26a69a" stroke-width="0.95" stroke-opacity="0.72"/>
<rect x="797.47" y="289.00" width="2.7" height="13.75" fill="#26a69a"/>
<line x1="801.80" y1="288.00" x2="801.80" y2="300.00" stroke="#ef5350" stroke-width="0.95" stroke-opacity="0.72"/>
<rect x="800.45" y="289.00" width="2.7" height="9.75" fill="#ef5350"/>
<line x1="804.79" y1="293.00" x2="804.79" y2="301.25" stroke="#26a69a" stroke-width="0.95" stroke-opacity="0.72"/>
<rect x="803.44" y="298.10" width="2.7" height="0.90" fill="#26a69a"/>
<line x1="807.78" y1="293.00" x2="807.78" y2="307.50" stroke="#ef5350" stroke-width="0.95" stroke-opacity="0.72"/>
<rect x="806.43" y="298.50" width="2.7" height="1.00" fill="#ef5350"/>
<line x1="810.76" y1="286.25" x2="810.76" y2="304.40" stroke="#26a69a" stroke-width="0.95" stroke-opacity="0.72"/>
<rect x="809.41" y="289.00" width="2.7" height="10.00" fill="#26a69a"/>
<line x1="813.75" y1="288.00" x2="813.75" y2="296.90" stroke="#ef5350" stroke-width="0.95" stroke-opacity="0.72"/>
<rect x="812.40" y="289.00" width="2.7" height="5.75" fill="#ef5350"/>
<line x1="816.74" y1="277.50" x2="816.74" y2="296.90" stroke="#26a69a" stroke-width="0.95" stroke-opacity="0.72"/>
<rect x="815.39" y="279.40" width="2.7" height="15.00" fill="#26a69a"/>
<line x1="819.72" y1="278.00" x2="819.72" y2="284.50" stroke="#ef5350" stroke-width="0.95" stroke-opacity="0.72"/>
<rect x="818.37" y="279.40" width="2.7" height="4.10" fill="#ef5350"/>
<line x1="822.71" y1="281.90" x2="822.71" y2="297.50" stroke="#ef5350" stroke-width="0.95" stroke-opacity="0.72"/>
<rect x="821.36" y="283.50" width="2.7" height="9.25" fill="#ef5350"/>
<line x1="825.70" y1="292.00" x2="825.70" y2="306.25" stroke="#ef5350" stroke-width="0.95" stroke-opacity="0.72"/>
<rect x="824.35" y="292.75" width="2.7" height="5.25" fill="#ef5350"/>
<line x1="828.69" y1="296.25" x2="828.69" y2="301.90" stroke="#26a69a" stroke-width="0.95" stroke-opacity="0.72"/>
<rect x="827.34" y="296.50" width="2.7" height="1.25" fill="#26a69a"/>
<line x1="831.67" y1="295.00" x2="831.67" y2="302.50" stroke="#ef5350" stroke-width="0.95" stroke-opacity="0.72"/>
<rect x="830.32" y="296.90" width="2.7" height="4.35" fill="#ef5350"/>
<line x1="834.66" y1="295.00" x2="834.66" y2="307.75" stroke="#26a69a" stroke-width="0.95" stroke-opacity="0.72"/>
<rect x="833.31" y="298.00" width="2.7" height="3.25" fill="#26a69a"/>
<line x1="837.65" y1="290.00" x2="837.65" y2="308.00" stroke="#26a69a" stroke-width="0.95" stroke-opacity="0.72"/>
<rect x="836.30" y="292.50" width="2.7" height="5.25" fill="#26a69a"/>
<line x1="840.63" y1="288.00" x2="840.63" y2="298.50" stroke="#ef5350" stroke-width="0.95" stroke-opacity="0.72"/>
<rect x="839.28" y="292.50" width="2.7" height="5.25" fill="#ef5350"/>
<line x1="843.62" y1="289.40" x2="843.62" y2="299.40" stroke="#26a69a" stroke-width="0.95" stroke-opacity="0.72"/>
<rect x="842.27" y="294.40" width="2.7" height="3.35" fill="#26a69a"/>
<line x1="846.61" y1="287.25" x2="846.61" y2="294.50" stroke="#26a69a" stroke-width="0.95" stroke-opacity="0.72"/>
<rect x="845.26" y="289.00" width="2.7" height="4.75" fill="#26a69a"/>
<line x1="849.59" y1="285.25" x2="849.59" y2="290.60" stroke="#26a69a" stroke-width="0.95" stroke-opacity="0.72"/>
<rect x="848.24" y="288.50" width="2.7" height="0.90" fill="#26a69a"/>
<line x1="852.58" y1="286.00" x2="852.58" y2="293.00" stroke="#ef5350" stroke-width="0.95" stroke-opacity="0.72"/>
<rect x="851.23" y="288.50" width="2.7" height="3.40" fill="#ef5350"/>
<line x1="855.57" y1="290.00" x2="855.57" y2="293.50" stroke="#ef5350" stroke-width="0.95" stroke-opacity="0.72"/>
<rect x="854.22" y="291.90" width="2.7" height="1.10" fill="#ef5350"/>
</g>
<g clip-path="url(#cr)">
<rect x="7" y="387" width="958" height="29" fill="#7e57c2" fill-opacity="0.1"/>
<line x1="8" y1="387.1" x2="965" y2="387.1" stroke="#a6a8b0" stroke-width="1" stroke-dasharray="3,3.1"/>
<line x1="8" y1="401.4" x2="965" y2="401.4" stroke="#a9abb3" stroke-width="0.6" stroke-dasharray="3.6,2.5"/>
<line x1="8" y1="416" x2="965" y2="416" stroke="#a6a8b0" stroke-width="1" stroke-dasharray="3,3.1"/>
<g clip-path="url(#ob)"><polygon points="6.9,393.3 10.3,392.9 13.3,390.9 16.7,385.5 21.1,378.7 25.0,374.8 28.2,372.3 30.4,376.7 32.8,382.1 35.2,383.6 37.7,380.6 39.6,380.6 41.6,382.6 44.0,383.6 46.0,390.4 48.9,388.0 51.9,387.5 54.8,388.7 58.2,387.0 61.6,385.5 63.6,382.1 67.5,379.7 72.4,375.8 76.3,374.3 79.2,372.0 81.1,384.1 84.6,383.6 87.0,391.4 90.9,400.2 93.8,394.3 96.3,397.2 101.6,393.7 106.4,396.3 111.3,398.2 115.2,400.8 120.1,399.2 124.0,398.2 128.0,400.2 132.8,396.9 139.6,395.3 143.5,396.9 150.4,394.3 156.2,398.2 163.0,397.2 168.0,398.2 171.9,396.9 176.8,401.2 181.6,401.5 185.5,405.0 188.5,398.8 194.5,403.0 200.3,400.2 208.0,403.0 216.0,404.7 221.8,401.2 225.7,401.6 231.6,405.0 236.4,404.0 239.4,399.2 243.3,398.2 247.2,402.1 251.0,406.0 255.0,404.0 259.0,409.4 261.0,408.0 264.8,412.0 270.6,410.0 274.5,407.4 280.4,409.0 286.2,415.2 289.0,417.0 292.0,416.8 296.0,413.9 301.9,403.0 306.8,399.6 313.6,403.0 321.4,406.0 325.9,409.1 329.8,411.0 334.6,411.6 338.6,408.5 341.5,408.5 345.4,412.0 348.3,412.0 353.2,407.7 357.1,408.5 362.0,398.4 365.9,401.9 370.8,400.7 374.7,399.3 377.6,401.3 383.5,399.9 386.4,397.4 391.3,403.8 395.2,404.2 400.0,403.2 405.9,399.3 410.8,396.8 413.8,396.8 416.1,401.3 419.2,397.4 423.5,397.4 429.4,398.4 434.2,396.4 439.1,399.9 443.0,401.3 446.0,390.2 448.9,388.6 452.8,396.0 457.7,394.0 461.6,387.0 465.5,393.5 470.4,390.5 473.3,388.6 476.2,394.5 479.2,394.0 482.1,397.4 488.0,396.8 491.9,396.0 496.8,388.2 500.7,390.2 505.5,390.5 509.5,395.4 513.4,399.3 516.3,398.4 520.0,398.8 524.9,398.4 529.8,403.2 533.7,401.3 537.6,401.9 541.5,404.2 547.3,399.3 552.2,400.3 558.0,398.4 561.0,399.3 565.9,409.7 571.8,413.6 574.7,409.7 577.6,409.7 580.5,416.0 585.4,417.9 589.3,419.5 593.2,414.4 595.2,415.0 598.1,409.1 604.0,410.0 607.9,411.0 611.8,414.0 615.7,412.4 619.6,409.1 623.5,404.2 628.4,399.9 632.3,401.9 637.2,407.1 640.1,408.5 644.0,404.6 648.9,405.2 653.8,401.9 657.7,401.3 662.6,402.3 667.5,400.7 670.4,392.5 673.3,396.0 679.2,394.0 684.0,398.0 688.0,398.8 691.9,393.5 694.8,392.1 697.7,395.4 703.6,395.4 707.5,397.4 711.4,398.0 714.6,405.2 717.6,404.2 723.4,408.1 727.3,404.2 730.3,405.2 735.2,400.7 739.0,400.3 742.0,403.2 745.0,401.9 747.9,406.2 752.7,404.6 757.6,404.2 760.5,402.7 763.5,403.8 766.4,404.6 769.3,410.0 771.8,423.3 775.2,416.0 778.1,417.0 783.0,416.3 786.0,415.0 789.8,422.2 792.8,423.4 795.6,422.7 797.2,418.0 798.6,413.6 801.6,416.0 806.4,416.3 810.4,409.7 813.3,411.0 816.8,404.2 821.0,406.6 825.0,409.7 828.9,409.1 831.8,411.0 837.7,406.6 840.6,408.1 845.5,404.6 849.4,403.2 852.3,405.2 855.5,405.2 855.5,387 7,387" fill="url(#gg)"/></g>
<g clip-path="url(#os)"><polygon points="6.9,393.3 10.3,392.9 13.3,390.9 16.7,385.5 21.1,378.7 25.0,374.8 28.2,372.3 30.4,376.7 32.8,382.1 35.2,383.6 37.7,380.6 39.6,380.6 41.6,382.6 44.0,383.6 46.0,390.4 48.9,388.0 51.9,387.5 54.8,388.7 58.2,387.0 61.6,385.5 63.6,382.1 67.5,379.7 72.4,375.8 76.3,374.3 79.2,372.0 81.1,384.1 84.6,383.6 87.0,391.4 90.9,400.2 93.8,394.3 96.3,397.2 101.6,393.7 106.4,396.3 111.3,398.2 115.2,400.8 120.1,399.2 124.0,398.2 128.0,400.2 132.8,396.9 139.6,395.3 143.5,396.9 150.4,394.3 156.2,398.2 163.0,397.2 168.0,398.2 171.9,396.9 176.8,401.2 181.6,401.5 185.5,405.0 188.5,398.8 194.5,403.0 200.3,400.2 208.0,403.0 216.0,404.7 221.8,401.2 225.7,401.6 231.6,405.0 236.4,404.0 239.4,399.2 243.3,398.2 247.2,402.1 251.0,406.0 255.0,404.0 259.0,409.4 261.0,408.0 264.8,412.0 270.6,410.0 274.5,407.4 280.4,409.0 286.2,415.2 289.0,417.0 292.0,416.8 296.0,413.9 301.9,403.0 306.8,399.6 313.6,403.0 321.4,406.0 325.9,409.1 329.8,411.0 334.6,411.6 338.6,408.5 341.5,408.5 345.4,412.0 348.3,412.0 353.2,407.7 357.1,408.5 362.0,398.4 365.9,401.9 370.8,400.7 374.7,399.3 377.6,401.3 383.5,399.9 386.4,397.4 391.3,403.8 395.2,404.2 400.0,403.2 405.9,399.3 410.8,396.8 413.8,396.8 416.1,401.3 419.2,397.4 423.5,397.4 429.4,398.4 434.2,396.4 439.1,399.9 443.0,401.3 446.0,390.2 448.9,388.6 452.8,396.0 457.7,394.0 461.6,387.0 465.5,393.5 470.4,390.5 473.3,388.6 476.2,394.5 479.2,394.0 482.1,397.4 488.0,396.8 491.9,396.0 496.8,388.2 500.7,390.2 505.5,390.5 509.5,395.4 513.4,399.3 516.3,398.4 520.0,398.8 524.9,398.4 529.8,403.2 533.7,401.3 537.6,401.9 541.5,404.2 547.3,399.3 552.2,400.3 558.0,398.4 561.0,399.3 565.9,409.7 571.8,413.6 574.7,409.7 577.6,409.7 580.5,416.0 585.4,417.9 589.3,419.5 593.2,414.4 595.2,415.0 598.1,409.1 604.0,410.0 607.9,411.0 611.8,414.0 615.7,412.4 619.6,409.1 623.5,404.2 628.4,399.9 632.3,401.9 637.2,407.1 640.1,408.5 644.0,404.6 648.9,405.2 653.8,401.9 657.7,401.3 662.6,402.3 667.5,400.7 670.4,392.5 673.3,396.0 679.2,394.0 684.0,398.0 688.0,398.8 691.9,393.5 694.8,392.1 697.7,395.4 703.6,395.4 707.5,397.4 711.4,398.0 714.6,405.2 717.6,404.2 723.4,408.1 727.3,404.2 730.3,405.2 735.2,400.7 739.0,400.3 742.0,403.2 745.0,401.9 747.9,406.2 752.7,404.6 757.6,404.2 760.5,402.7 763.5,403.8 766.4,404.6 769.3,410.0 771.8,423.3 775.2,416.0 778.1,417.0 783.0,416.3 786.0,415.0 789.8,422.2 792.8,423.4 795.6,422.7 797.2,418.0 798.6,413.6 801.6,416.0 806.4,416.3 810.4,409.7 813.3,411.0 816.8,404.2 821.0,406.6 825.0,409.7 828.9,409.1 831.8,411.0 837.7,406.6 840.6,408.1 845.5,404.6 849.4,403.2 852.3,405.2 855.5,405.2 855.5,416 7,416" fill="url(#rg)"/></g>
<polyline fill="none" stroke="#f7df4f" stroke-width="1" stroke-opacity="1" stroke-linejoin="round"  points="6.9,383.6 23.5,383.6 43.0,383.5 62.6,383.5 87.0,383.6 96.8,385.5 104.0,386.7 109.4,390.4 121.0,395.7 132.8,397.2 148.4,397.2 168.0,396.9 185.5,398.5 208.0,402.1 227.7,403.5 247.2,403.1 266.7,405.0 286.2,409.0 298.0,411.0 309.7,409.4 320.0,408.1 329.8,406.6 339.5,406.2 349.3,407.7 359.0,409.1 368.8,407.1 378.6,405.2 388.4,402.9 398.1,401.9 417.7,400.3 437.2,398.8 456.7,396.4 476.2,394.1 486.0,393.1 505.5,393.5 520.0,395.4 531.7,396.4 543.4,398.8 559.0,400.7 574.7,405.2 588.4,409.7 602.0,413.0 611.8,414.0 619.6,413.6 629.4,410.0 641.0,407.1 656.7,404.6 672.3,402.7 686.0,398.8 699.7,396.4 709.5,395.4 719.5,398.0 735.2,400.7 750.8,403.2 766.4,403.8 778.0,408.1 787.9,412.0 797.7,415.0 805.5,416.9 811.3,417.5 819.0,415.0 832.8,411.6 844.5,408.5 855.5,407.1"/>
<polyline fill="none" stroke="#7e57c2" stroke-width="0.95" stroke-opacity="0.95" stroke-linejoin="round"  points="6.9,393.3 10.3,392.9 13.3,390.9 16.7,385.5 21.1,378.7 25.0,374.8 28.2,372.3 30.4,376.7 32.8,382.1 35.2,383.6 37.7,380.6 39.6,380.6 41.6,382.6 44.0,383.6 46.0,390.4 48.9,388.0 51.9,387.5 54.8,388.7 58.2,387.0 61.6,385.5 63.6,382.1 67.5,379.7 72.4,375.8 76.3,374.3 79.2,372.0 81.1,384.1 84.6,383.6 87.0,391.4 90.9,400.2 93.8,394.3 96.3,397.2 101.6,393.7 106.4,396.3 111.3,398.2 115.2,400.8 120.1,399.2 124.0,398.2 128.0,400.2 132.8,396.9 139.6,395.3 143.5,396.9 150.4,394.3 156.2,398.2 163.0,397.2 168.0,398.2 171.9,396.9 176.8,401.2 181.6,401.5 185.5,405.0 188.5,398.8 194.5,403.0 200.3,400.2 208.0,403.0 216.0,404.7 221.8,401.2 225.7,401.6 231.6,405.0 236.4,404.0 239.4,399.2 243.3,398.2 247.2,402.1 251.0,406.0 255.0,404.0 259.0,409.4 261.0,408.0 264.8,412.0 270.6,410.0 274.5,407.4 280.4,409.0 286.2,415.2 289.0,417.0 292.0,416.8 296.0,413.9 301.9,403.0 306.8,399.6 313.6,403.0 321.4,406.0 325.9,409.1 329.8,411.0 334.6,411.6 338.6,408.5 341.5,408.5 345.4,412.0 348.3,412.0 353.2,407.7 357.1,408.5 362.0,398.4 365.9,401.9 370.8,400.7 374.7,399.3 377.6,401.3 383.5,399.9 386.4,397.4 391.3,403.8 395.2,404.2 400.0,403.2 405.9,399.3 410.8,396.8 413.8,396.8 416.1,401.3 419.2,397.4 423.5,397.4 429.4,398.4 434.2,396.4 439.1,399.9 443.0,401.3 446.0,390.2 448.9,388.6 452.8,396.0 457.7,394.0 461.6,387.0 465.5,393.5 470.4,390.5 473.3,388.6 476.2,394.5 479.2,394.0 482.1,397.4 488.0,396.8 491.9,396.0 496.8,388.2 500.7,390.2 505.5,390.5 509.5,395.4 513.4,399.3 516.3,398.4 520.0,398.8 524.9,398.4 529.8,403.2 533.7,401.3 537.6,401.9 541.5,404.2 547.3,399.3 552.2,400.3 558.0,398.4 561.0,399.3 565.9,409.7 571.8,413.6 574.7,409.7 577.6,409.7 580.5,416.0 585.4,417.9 589.3,419.5 593.2,414.4 595.2,415.0 598.1,409.1 604.0,410.0 607.9,411.0 611.8,414.0 615.7,412.4 619.6,409.1 623.5,404.2 628.4,399.9 632.3,401.9 637.2,407.1 640.1,408.5 644.0,404.6 648.9,405.2 653.8,401.9 657.7,401.3 662.6,402.3 667.5,400.7 670.4,392.5 673.3,396.0 679.2,394.0 684.0,398.0 688.0,398.8 691.9,393.5 694.8,392.1 697.7,395.4 703.6,395.4 707.5,397.4 711.4,398.0 714.6,405.2 717.6,404.2 723.4,408.1 727.3,404.2 730.3,405.2 735.2,400.7 739.0,400.3 742.0,403.2 745.0,401.9 747.9,406.2 752.7,404.6 757.6,404.2 760.5,402.7 763.5,403.8 766.4,404.6 769.3,410.0 771.8,423.3 775.2,416.0 778.1,417.0 783.0,416.3 786.0,415.0 789.8,422.2 792.8,423.4 795.6,422.7 797.2,418.0 798.6,413.6 801.6,416.0 806.4,416.3 810.4,409.7 813.3,411.0 816.8,404.2 821.0,406.6 825.0,409.7 828.9,409.1 831.8,411.0 837.7,406.6 840.6,408.1 845.5,404.6 849.4,403.2 852.3,405.2 855.5,405.2"/>
</g>
<line x1="7" y1="427.6" x2="1016.8" y2="427.6" stroke="#c6c6c6" stroke-width="1.5"/>
<line x1="965" y1="19" x2="965" y2="447.3" stroke="#b9b9b9" stroke-width="1.4"/>
<circle cx="173.4" cy="380.2" r="2.5" fill="none" stroke="#50535e" stroke-width="0.7"/><line x1="171.2" y1="383.3" x2="175.6" y2="377.1" stroke="#50535e" stroke-width="0.7"/>
<circle cx="187.0" cy="380.2" r="2.5" fill="none" stroke="#50535e" stroke-width="0.7"/><line x1="184.8" y1="383.3" x2="189.2" y2="377.1" stroke="#50535e" stroke-width="0.7"/>
<circle cx="200.7" cy="380.2" r="2.5" fill="none" stroke="#50535e" stroke-width="0.7"/><line x1="198.5" y1="383.3" x2="202.9" y2="377.1" stroke="#50535e" stroke-width="0.7"/>
<circle cx="214.4" cy="380.2" r="2.5" fill="none" stroke="#50535e" stroke-width="0.7"/><line x1="212.2" y1="383.3" x2="216.6" y2="377.1" stroke="#50535e" stroke-width="0.7"/>
<circle cx="228.2" cy="380.2" r="2.5" fill="none" stroke="#50535e" stroke-width="0.7"/><line x1="226.0" y1="383.3" x2="230.4" y2="377.1" stroke="#50535e" stroke-width="0.7"/>
<circle cx="241.9" cy="380.2" r="2.5" fill="none" stroke="#50535e" stroke-width="0.7"/><line x1="239.7" y1="383.3" x2="244.1" y2="377.1" stroke="#50535e" stroke-width="0.7"/>
<rect x="967.4" y="22" width="46.3" height="17.2" rx="2" fill="#fff" stroke="#eceef3" stroke-width="1"/>
<path d="M931.5,287.1 H964.3 V297.9 H931.5 Q929.5,297.9 929.5,295.9 V289.1 Q929.5,287.1 931.5,287.1 Z" fill="#ef5350"/>
<path d="M965.1,287 H1011.7 Q1013.7,287 1013.7,289 V304.7 Q1013.7,306.7 1011.7,306.7 H965.1 Z" fill="#ef5350"/>
<g fill="#131722"><path d="M7.1,456.1 h5.9 v6.9 h-3 v-3.8 h-2.9 z"/><circle cx="14.7" cy="457.55" r="1.45"/><path d="M16.9,456.1 h3.7 l-2.9,6.9 h-3.6 z"/></g>
<g filter="url(#nf)">
<text x="7.3" y="14.09" font-size="8.3" fill="#20232b" font-weight="normal" text-anchor="start" fill-opacity="1" textLength="275.7" lengthAdjust="spacingAndGlyphs">Jake_Simmons published on TradingView.com, Apr 17, 2024 06:27 UTC-4</text>
<text x="12.6" y="32.50" font-size="8.6" fill="#4b4d55" font-weight="normal" text-anchor="start" fill-opacity="1" textLength="179.4" lengthAdjust="spacingAndGlyphs">Shiba Inu / United States Dollar, 4h, COINBASE</text>
<text x="198.5" y="32.50" font-size="8.6" fill="#4b4d55" font-weight="normal" text-anchor="start" fill-opacity="1" textLength="5.3" lengthAdjust="spacingAndGlyphs">O</text>
<text x="204.0" y="32.50" font-size="8.6" fill="#f23645" font-weight="normal" text-anchor="start" fill-opacity="1" textLength="40.7" lengthAdjust="spacingAndGlyphs">0.00002242</text>
<text x="251.0" y="32.50" font-size="8.6" fill="#4b4d55" font-weight="normal" text-anchor="start" fill-opacity="1" textLength="5.2" lengthAdjust="spacingAndGlyphs">H</text>
<text x="256.4" y="32.50" font-size="8.6" fill="#f23645" font-weight="normal" text-anchor="start" fill-opacity="1" textLength="40.7" lengthAdjust="spacingAndGlyphs">0.00002256</text>
<text x="303.0" y="32.50" font-size="8.6" fill="#4b4d55" font-weight="normal" text-anchor="start" fill-opacity="1" textLength="4.2" lengthAdjust="spacingAndGlyphs">L</text>
<text x="307.5" y="32.50" font-size="8.6" fill="#f23645" font-weight="normal" text-anchor="start" fill-opacity="1" textLength="40.7" lengthAdjust="spacingAndGlyphs">0.00002223</text>
<text x="354.0" y="32.50" font-size="8.6" fill="#4b4d55" font-weight="normal" text-anchor="start" fill-opacity="1" textLength="5.2" lengthAdjust="spacingAndGlyphs">C</text>
<text x="359.5" y="32.50" font-size="8.6" fill="#f23645" font-weight="normal" text-anchor="start" fill-opacity="1" textLength="40.7" lengthAdjust="spacingAndGlyphs">0.00002232</text>
<text x="404.0" y="32.50" font-size="8.6" fill="#f23645" font-weight="normal" text-anchor="start" fill-opacity="1" textLength="80.0" lengthAdjust="spacingAndGlyphs">−0.00000010 (−0.45%)</text>
<text x="12.6" y="44.30" font-size="8.6" fill="#4b4d55" font-weight="normal" text-anchor="start" fill-opacity="1" textLength="36.4" lengthAdjust="spacingAndGlyphs">Vol · SHIB</text>
<text x="55.0" y="44.30" font-size="8.6" fill="#f23645" font-weight="normal" text-anchor="start" fill-opacity="1" textLength="30.0" lengthAdjust="spacingAndGlyphs">93.766 B</text>
<text x="12.6" y="56.70" font-size="8.6" fill="#4b4d55" font-weight="normal" text-anchor="start" fill-opacity="1" textLength="74.4" lengthAdjust="spacingAndGlyphs">EMA 20/50/100/200</text>
<text x="92.6" y="56.70" font-size="8.6" fill="#f01818" font-weight="normal" text-anchor="start" fill-opacity="1" textLength="40.7" lengthAdjust="spacingAndGlyphs">0.00002266</text>
<text x="139.0" y="56.70" font-size="8.6" fill="#ff9800" font-weight="normal" text-anchor="start" fill-opacity="1" textLength="40.7" lengthAdjust="spacingAndGlyphs">0.00002416</text>
<text x="186.0" y="56.70" font-size="8.6" fill="#22e5f5" font-weight="normal" text-anchor="start" fill-opacity="1" textLength="40.7" lengthAdjust="spacingAndGlyphs">0.00002561</text>
<text x="232.0" y="56.70" font-size="8.6" fill="#1515f0" font-weight="normal" text-anchor="start" fill-opacity="1" textLength="40.7" lengthAdjust="spacingAndGlyphs">0.00002591</text>
<text x="12.5" y="383.10" font-size="8.6" fill="#4b4d55" font-weight="normal" text-anchor="start" fill-opacity="1" textLength="100.5" lengthAdjust="spacingAndGlyphs">RSI (14, close, SMA, 14, 2)</text>
<text x="119.0" y="383.10" font-size="8.6" fill="#7e57c2" font-weight="normal" text-anchor="start" fill-opacity="1" textLength="19.5" lengthAdjust="spacingAndGlyphs">44.32</text>
<text x="144.0" y="383.10" font-size="8.6" fill="#f2d544" font-weight="normal" text-anchor="start" fill-opacity="1" textLength="19.5" lengthAdjust="spacingAndGlyphs">42.33</text>
<text x="873.0" y="59.15" font-size="8.6" fill="#787b86" font-weight="normal" text-anchor="start" fill-opacity="1" textLength="52.7" lengthAdjust="spacingAndGlyphs">1 (0.00004573)</text>
<text x="873.0" y="118.35" font-size="8.6" fill="#00bcd4" font-weight="normal" text-anchor="start" fill-opacity="1" textLength="69.5" lengthAdjust="spacingAndGlyphs">0.786 (0.00003988)</text>
<text x="873.0" y="164.40" font-size="8.6" fill="#089981" font-weight="normal" text-anchor="start" fill-opacity="1" textLength="69.5" lengthAdjust="spacingAndGlyphs">0.618 (0.00003529)</text>
<text x="873.0" y="197.10" font-size="8.6" fill="#4caf50" font-weight="normal" text-anchor="start" fill-opacity="1" textLength="60.8" lengthAdjust="spacingAndGlyphs">0.5 (0.00003206)</text>
<text x="873.0" y="230.10" font-size="8.6" fill="#ff9800" font-weight="normal" text-anchor="start" fill-opacity="1" textLength="69.5" lengthAdjust="spacingAndGlyphs">0.382 (0.00002883)</text>
<text x="873.0" y="269.90" font-size="8.6" fill="#f23645" font-weight="normal" text-anchor="start" fill-opacity="1" textLength="69.5" lengthAdjust="spacingAndGlyphs">0.236 (0.00002484)</text>
<text x="873.0" y="334.70" font-size="8.6" fill="#787b86" font-weight="normal" text-anchor="start" fill-opacity="1" textLength="52.7" lengthAdjust="spacingAndGlyphs">0 (0.00001838)</text>
<text x="970.3" y="56.22" font-size="8.6" fill="#3c3f49" font-weight="normal" text-anchor="start" fill-opacity="1" textLength="40.2" lengthAdjust="spacingAndGlyphs">0.00004600</text>
<text x="970.3" y="76.46" font-size="8.6" fill="#3c3f49" font-weight="normal" text-anchor="start" fill-opacity="1" textLength="40.2" lengthAdjust="spacingAndGlyphs">0.00004400</text>
<text x="970.3" y="96.70" font-size="8.6" fill="#3c3f49" font-weight="normal" text-anchor="start" fill-opacity="1" textLength="40.2" lengthAdjust="spacingAndGlyphs">0.00004200</text>
<text x="970.3" y="116.94" font-size="8.6" fill="#3c3f49" font-weight="normal" text-anchor="start" fill-opacity="1" textLength="40.2" lengthAdjust="spacingAndGlyphs">0.00004000</text>
<text x="970.3" y="137.18" font-size="8.6" fill="#3c3f49" font-weight="normal" text-anchor="start" fill-opacity="1" textLength="40.2" lengthAdjust="spacingAndGlyphs">0.00003800</text>
<text x="970.3" y="157.42" font-size="8.6" fill="#3c3f49" font-weight="normal" text-anchor="start" fill-opacity="1" textLength="40.2" lengthAdjust="spacingAndGlyphs">0.00003600</text>
<text x="970.3" y="177.66" font-size="8.6" fill="#3c3f49" font-weight="normal" text-anchor="start" fill-opacity="1" textLength="40.2" lengthAdjust="spacingAndGlyphs">0.00003400</text>
<text x="970.3" y="197.90" font-size="8.6" fill="#3c3f49" font-weight="normal" text-anchor="start" fill-opacity="1" textLength="40.2" lengthAdjust="spacingAndGlyphs">0.00003200</text>
<text x="970.3" y="218.14" font-size="8.6" fill="#3c3f49" font-weight="normal" text-anchor="start" fill-opacity="1" textLength="40.2" lengthAdjust="spacingAndGlyphs">0.00003000</text>
<text x="970.3" y="238.38" font-size="8.6" fill="#3c3f49" font-weight="normal" text-anchor="start" fill-opacity="1" textLength="40.2" lengthAdjust="spacingAndGlyphs">0.00002800</text>
<text x="970.3" y="258.62" font-size="8.6" fill="#3c3f49" font-weight="normal" text-anchor="start" fill-opacity="1" textLength="40.2" lengthAdjust="spacingAndGlyphs">0.00002600</text>
<text x="970.3" y="278.86" font-size="8.6" fill="#3c3f49" font-weight="normal" text-anchor="start" fill-opacity="1" textLength="40.2" lengthAdjust="spacingAndGlyphs">0.00002400</text>
<text x="970.3" y="319.34" font-size="8.6" fill="#3c3f49" font-weight="normal" text-anchor="start" fill-opacity="1" textLength="40.2" lengthAdjust="spacingAndGlyphs">0.00002000</text>
<text x="970.3" y="339.58" font-size="8.6" fill="#3c3f49" font-weight="normal" text-anchor="start" fill-opacity="1" textLength="40.2" lengthAdjust="spacingAndGlyphs">0.00001800</text>
<text x="970.3" y="359.82" font-size="8.6" fill="#3c3f49" font-weight="normal" text-anchor="start" fill-opacity="1" textLength="40.2" lengthAdjust="spacingAndGlyphs">0.00001600</text>
<text x="970.3" y="383.10" font-size="8.6" fill="#3c3f49" font-weight="normal" text-anchor="start" fill-opacity="1" textLength="18.8" lengthAdjust="spacingAndGlyphs">80.00</text>
<text x="970.3" y="411.80" font-size="8.6" fill="#3c3f49" font-weight="normal" text-anchor="start" fill-opacity="1" textLength="18.8" lengthAdjust="spacingAndGlyphs">40.00</text>
<text x="974.5" y="33.38" font-size="8" fill="#131722" font-weight="normal" text-anchor="start" fill-opacity="1" textLength="12.5" lengthAdjust="spacingAndGlyphs">USD</text>
<text x="932.2" y="295.65" font-size="8.2" fill="#fff" font-weight="normal" text-anchor="start" fill-opacity="1" textLength="28.2" lengthAdjust="spacingAndGlyphs">SHIBUSD</text>
<text x="970.3" y="296.30" font-size="8.6" fill="#fff" font-weight="normal" text-anchor="start" fill-opacity="1" textLength="40.2" lengthAdjust="spacingAndGlyphs">0.00002232</text>
<text x="970.3" y="305.20" font-size="8.6" fill="#fff" font-weight="normal" text-anchor="start" fill-opacity="0.9" textLength="30.7" lengthAdjust="spacingAndGlyphs">01:32:20</text>
<text x="66.9" y="440.50" font-size="8.6" fill="#2a2e39" font-weight="normal" text-anchor="middle" fill-opacity="1">4</text>
<text x="120.3" y="440.50" font-size="8.6" fill="#2a2e39" font-weight="normal" text-anchor="middle" fill-opacity="1">7</text>
<text x="190.0" y="440.50" font-size="8.6" fill="#2a2e39" font-weight="normal" text-anchor="middle" fill-opacity="1">11</text>
<text x="243.5" y="440.50" font-size="8.6" fill="#2a2e39" font-weight="normal" text-anchor="middle" fill-opacity="1">14</text>
<text x="314.5" y="440.50" font-size="8.6" fill="#2a2e39" font-weight="normal" text-anchor="middle" fill-opacity="1">18</text>
<text x="368.5" y="440.50" font-size="8.6" fill="#2a2e39" font-weight="normal" text-anchor="middle" fill-opacity="1">21</text>
<text x="440.0" y="440.50" font-size="8.6" fill="#2a2e39" font-weight="normal" text-anchor="middle" fill-opacity="1">25</text>
<text x="494.0" y="440.50" font-size="8.6" fill="#2a2e39" font-weight="normal" text-anchor="middle" fill-opacity="1">28</text>
<text x="619.3" y="440.50" font-size="8.6" fill="#2a2e39" font-weight="normal" text-anchor="middle" fill-opacity="1">4</text>
<text x="691.2" y="440.50" font-size="8.6" fill="#2a2e39" font-weight="normal" text-anchor="middle" fill-opacity="1">8</text>
<text x="745.4" y="440.50" font-size="8.6" fill="#2a2e39" font-weight="normal" text-anchor="middle" fill-opacity="1">11</text>
<text x="816.7" y="440.50" font-size="8.6" fill="#2a2e39" font-weight="normal" text-anchor="middle" fill-opacity="1">15</text>
<text x="870.6" y="440.50" font-size="8.6" fill="#2a2e39" font-weight="normal" text-anchor="middle" fill-opacity="1">18</text>
<text x="942.5" y="440.50" font-size="8.6" fill="#2a2e39" font-weight="normal" text-anchor="middle" fill-opacity="1">22</text>
<text x="5.6" y="440.50" font-size="8.6" fill="#2a2e39" font-weight="bold" text-anchor="start" fill-opacity="1" textLength="14.0" lengthAdjust="spacingAndGlyphs">Mar</text>
<text x="558.8" y="440.50" font-size="8.6" fill="#2a2e39" font-weight="bold" text-anchor="start" fill-opacity="1" textLength="14.0" lengthAdjust="spacingAndGlyphs">Apr</text>
<text x="23.4" y="463.3" font-size="8.6" fill="#1a1d27" stroke="#1a1d27" stroke-width="0.3" textLength="49.4" lengthAdjust="spacingAndGlyphs">TradingView</text>
</g>
<rect x="0" y="430" width="6.6" height="15" fill="#fff"/>
</svg></body></html>
